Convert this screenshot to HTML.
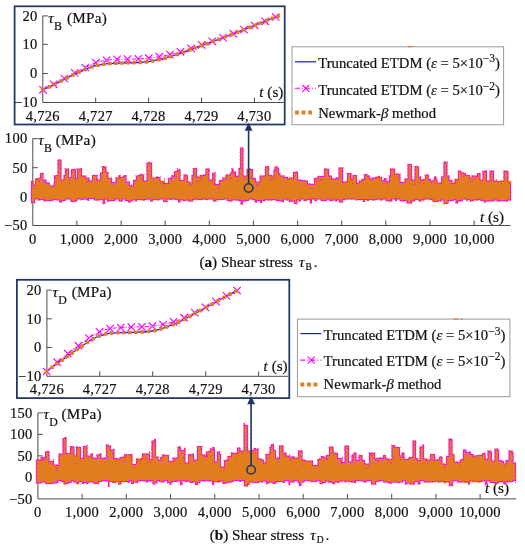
<!DOCTYPE html>
<html><head><meta charset="utf-8"><title>Shear stress</title>
<style>html,body{margin:0;padding:0;background:#fff;width:525px;height:550px;overflow:hidden}text{stroke:#111;stroke-width:0.2px}svg{display:block;will-change:transform}.t{font-family:"Liberation Serif",serif;font-size:14.5px;fill:#111;letter-spacing:0.3px}.l{font-family:"Liberation Serif",serif;font-size:14.7px;fill:#111}.c{font-family:"Liberation Serif",serif;font-size:15.2px;fill:#111}</style></head><body>
<svg width="525" height="550" viewBox="0 0 525 550">
<rect width="525" height="550" fill="#fff"/>
<path d="M37.8,138.6 H32.8 V225.5 H510.6" fill="none" stroke="#4c4c4c" stroke-width="1"/>
<text x="27.5" y="143.4" text-anchor="end" class="t">100</text>
<path d="M32.8,167.7 h5" stroke="#4c4c4c" stroke-width="1"/>
<text x="27.5" y="172.5" text-anchor="end" class="t">50</text>
<path d="M32.8,196.8 h5" stroke="#4c4c4c" stroke-width="1"/>
<text x="27.5" y="201.6" text-anchor="end" class="t">0</text>
<text x="27.5" y="230.3" text-anchor="end" class="t">−50</text>
<text x="32.8" y="244.4" text-anchor="middle" class="t">0</text>
<path d="M76.9,225.5 v-5" stroke="#4c4c4c" stroke-width="1"/>
<text x="76.9" y="244.4" text-anchor="middle" class="t">1,000</text>
<path d="M121.1,225.5 v-5" stroke="#4c4c4c" stroke-width="1"/>
<text x="121.1" y="244.4" text-anchor="middle" class="t">2,000</text>
<path d="M165.2,225.5 v-5" stroke="#4c4c4c" stroke-width="1"/>
<text x="165.2" y="244.4" text-anchor="middle" class="t">3,000</text>
<path d="M209.3,225.5 v-5" stroke="#4c4c4c" stroke-width="1"/>
<text x="209.3" y="244.4" text-anchor="middle" class="t">4,000</text>
<path d="M253.4,225.5 v-5" stroke="#4c4c4c" stroke-width="1"/>
<text x="253.4" y="244.4" text-anchor="middle" class="t">5,000</text>
<path d="M297.6,225.5 v-5" stroke="#4c4c4c" stroke-width="1"/>
<text x="297.6" y="244.4" text-anchor="middle" class="t">6,000</text>
<path d="M341.7,225.5 v-5" stroke="#4c4c4c" stroke-width="1"/>
<text x="341.7" y="244.4" text-anchor="middle" class="t">7,000</text>
<path d="M385.8,225.5 v-5" stroke="#4c4c4c" stroke-width="1"/>
<text x="385.8" y="244.4" text-anchor="middle" class="t">8,000</text>
<path d="M430.0,225.5 v-5" stroke="#4c4c4c" stroke-width="1"/>
<text x="430.0" y="244.4" text-anchor="middle" class="t">9,000</text>
<path d="M474.1,225.5 v-5" stroke="#4c4c4c" stroke-width="1"/>
<text x="474.1" y="244.4" text-anchor="middle" class="t">10,000</text>
<text x="38.3" y="145.1" class="t" style="font-size:15.2px"><tspan font-style="italic">τ</tspan><tspan dy="7" font-size="11.8">B</tspan><tspan dy="-7" dx="-0.6"> (MPa)</tspan></text>
<text x="480.0" y="221.5" class="t" style="font-size:15.2px;letter-spacing:0"><tspan font-style="italic">t</tspan> (s)</text>
<path d="M31.0,181.0 L33.5,181.0 L33.5,184.5 L35.0,184.5 L35.0,178.5 L37.0,178.5 L37.0,178.0 L39.5,178.0 L39.5,177.5 L40.0,177.5 L40.0,173.0 L42.5,173.0 L42.5,172.5 L43.5,172.5 L43.5,179.5 L46.5,179.5 L46.5,182.5 L50.0,182.5 L50.0,185.5 L53.5,185.5 L53.5,183.5 L54.0,183.5 L54.0,175.5 L55.5,175.5 L55.5,175.0 L57.5,175.0 L57.5,159.5 L61.5,159.5 L61.5,179.5 L63.5,179.5 L63.5,175.0 L65.0,175.0 L65.0,168.5 L69.0,168.5 L69.0,177.0 L71.0,177.0 L71.0,169.0 L76.0,169.0 L76.0,178.0 L77.0,178.0 L77.0,168.5 L81.0,168.5 L81.0,168.0 L82.0,168.0 L82.0,175.5 L86.0,175.5 L86.0,177.5 L89.5,177.5 L89.5,180.5 L92.0,180.5 L92.0,175.0 L97.5,175.0 L97.5,179.5 L100.0,179.5 L100.0,172.5 L102.0,172.5 L102.0,166.0 L104.5,166.0 L104.5,166.5 L106.5,166.5 L106.5,172.0 L108.5,172.0 L108.5,178.0 L111.0,178.0 L111.0,177.5 L112.0,177.5 L112.0,182.0 L115.5,182.0 L115.5,177.5 L118.5,177.5 L118.5,175.0 L120.5,175.0 L120.5,177.0 L123.0,177.0 L123.0,175.5 L124.5,175.5 L124.5,175.0 L126.5,175.0 L126.5,181.5 L130.0,181.5 L130.0,185.0 L132.0,185.0 L132.0,185.5 L133.0,185.5 L133.0,180.0 L136.0,180.0 L136.0,175.5 L138.0,175.5 L138.0,175.0 L139.5,175.0 L139.5,174.0 L142.5,174.0 L142.5,174.5 L144.0,174.5 L144.0,180.5 L146.5,180.5 L146.5,162.5 L148.5,162.5 L148.5,162.0 L150.0,162.0 L150.0,162.5 L152.0,162.5 L152.0,177.5 L156.0,177.5 L156.0,176.5 L158.0,176.5 L158.0,177.0 L160.5,177.0 L160.5,181.0 L164.0,181.0 L164.0,178.5 L164.5,178.5 L164.5,183.0 L168.0,183.0 L168.0,178.0 L170.0,178.0 L170.0,177.5 L171.5,177.5 L171.5,175.0 L173.0,175.0 L173.0,175.5 L174.0,175.5 L174.0,171.0 L177.0,171.0 L177.0,168.5 L177.5,168.5 L177.5,169.5 L179.0,169.5 L179.0,169.0 L180.5,169.0 L180.5,180.0 L183.5,180.0 L183.5,174.5 L187.5,174.5 L187.5,175.5 L188.0,175.5 L188.0,181.5 L190.5,181.5 L190.5,183.5 L191.5,183.5 L191.5,175.0 L193.0,175.0 L193.0,168.0 L197.0,168.0 L197.0,176.5 L200.0,176.5 L200.0,175.0 L203.5,175.0 L203.5,174.5 L205.0,174.5 L205.0,174.0 L205.5,174.0 L205.5,168.5 L209.5,168.5 L209.5,179.5 L212.0,179.5 L212.0,173.0 L214.0,173.0 L214.0,172.5 L215.5,172.5 L215.5,184.0 L219.0,184.0 L219.0,180.0 L222.5,180.0 L222.5,177.5 L225.5,177.5 L225.5,174.5 L230.0,174.5 L230.0,172.5 L231.5,172.5 L231.5,168.5 L233.5,168.5 L233.5,171.5 L236.0,171.5 L236.0,176.0 L237.5,176.0 L237.5,175.5 L238.5,175.5 L238.5,168.0 L240.0,168.0 L240.0,147.5 L243.5,147.5 L243.5,175.5 L246.5,175.5 L246.5,169.0 L249.0,169.0 L249.0,168.5 L250.5,168.5 L250.5,169.0 L253.0,169.0 L253.0,178.0 L256.0,178.0 L256.0,181.5 L259.5,181.5 L259.5,175.5 L265.0,175.5 L265.0,166.5 L266.5,166.5 L266.5,166.0 L269.0,166.0 L269.0,175.0 L272.0,175.0 L272.0,175.5 L273.5,175.5 L273.5,169.5 L274.5,169.5 L274.5,166.5 L278.0,166.5 L278.0,168.0 L279.0,168.0 L279.0,173.0 L280.5,173.0 L280.5,175.5 L284.5,175.5 L284.5,177.0 L288.0,177.0 L288.0,178.5 L289.0,178.5 L289.0,177.5 L293.0,177.5 L293.0,172.0 L296.0,172.0 L296.0,171.5 L298.0,171.5 L298.0,179.5 L301.0,179.5 L301.0,180.0 L305.5,180.0 L305.5,180.5 L308.0,180.5 L308.0,183.5 L311.5,183.5 L311.5,184.0 L314.0,184.0 L314.0,178.0 L317.0,178.0 L317.0,177.5 L317.5,177.5 L317.5,176.0 L324.0,176.0 L324.0,168.5 L327.5,168.5 L327.5,169.0 L329.0,169.0 L329.0,175.5 L332.0,175.5 L332.0,178.5 L335.5,178.5 L335.5,177.5 L338.0,177.5 L338.0,178.0 L338.5,178.0 L338.5,167.5 L343.0,167.5 L343.0,181.5 L346.5,181.5 L346.5,181.0 L347.0,181.0 L347.0,173.0 L351.5,173.0 L351.5,179.0 L352.5,179.0 L352.5,175.0 L357.0,175.0 L357.0,182.5 L359.0,182.5 L359.0,180.5 L361.5,180.5 L361.5,179.0 L364.0,179.0 L364.0,174.0 L367.5,174.0 L367.5,175.5 L370.0,175.5 L370.0,178.0 L372.0,178.0 L372.0,177.5 L375.0,177.5 L375.0,177.0 L377.5,177.0 L377.5,176.0 L380.0,176.0 L380.0,177.0 L382.0,177.0 L382.0,180.0 L384.0,180.0 L384.0,178.0 L386.5,178.0 L386.5,181.0 L388.5,181.0 L388.5,181.5 L389.0,181.5 L389.0,175.5 L390.0,175.5 L390.0,168.5 L395.0,168.5 L395.0,173.5 L398.0,173.5 L398.0,173.0 L398.5,173.0 L398.5,174.0 L400.5,174.0 L400.5,182.0 L404.5,182.0 L404.5,178.5 L407.5,178.5 L407.5,164.0 L412.0,164.0 L412.0,179.5 L414.5,179.5 L414.5,166.0 L418.0,166.0 L418.0,166.5 L419.0,166.5 L419.0,176.5 L421.0,176.5 L421.0,179.5 L423.0,179.5 L423.0,179.0 L425.0,179.0 L425.0,174.5 L428.5,174.5 L428.5,175.0 L429.0,175.0 L429.0,179.0 L431.0,179.0 L431.0,180.5 L433.5,180.5 L433.5,179.0 L434.0,179.0 L434.0,176.5 L436.5,176.5 L436.5,179.0 L437.5,179.0 L437.5,182.5 L441.0,182.5 L441.0,176.5 L443.5,176.5 L443.5,161.5 L446.0,161.5 L446.0,162.0 L447.5,162.0 L447.5,175.5 L449.5,175.5 L449.5,180.0 L452.5,180.0 L452.5,183.0 L454.5,183.0 L454.5,179.0 L458.0,179.0 L458.0,170.5 L460.5,170.5 L460.5,171.0 L461.5,171.0 L461.5,172.5 L464.0,172.5 L464.0,173.0 L466.0,173.0 L466.0,175.0 L470.0,175.0 L470.0,177.5 L471.5,177.5 L471.5,175.0 L472.0,175.0 L472.0,175.5 L476.0,175.5 L476.0,176.0 L477.0,176.0 L477.0,173.0 L480.5,173.0 L480.5,179.5 L482.5,179.5 L482.5,171.0 L484.5,171.0 L484.5,170.5 L487.0,170.5 L487.0,180.5 L489.5,180.5 L489.5,170.5 L494.0,170.5 L494.0,180.5 L496.0,180.5 L496.0,179.5 L497.0,179.5 L497.0,181.0 L500.5,181.0 L500.5,180.5 L503.5,180.5 L503.5,170.5 L506.5,170.5 L506.5,171.0 L508.5,171.0 L508.5,181.5 L511.0,181.5 L511.0,201.0 L510.5,201.0 L510.5,200.5 L508.0,200.5 L508.0,201.5 L504.5,201.5 L504.5,201.0 L500.0,201.0 L500.0,201.5 L497.0,201.5 L497.0,200.5 L494.5,200.5 L494.5,201.5 L486.0,201.5 L486.0,202.5 L483.5,202.5 L483.5,201.0 L480.5,201.0 L480.5,200.0 L478.5,200.0 L478.5,200.5 L473.0,200.5 L473.0,201.5 L469.5,201.5 L469.5,200.0 L467.5,200.0 L467.5,201.0 L466.0,201.0 L466.0,199.5 L463.0,199.5 L463.0,201.0 L461.0,201.0 L461.0,201.5 L458.0,201.5 L458.0,203.5 L455.5,203.5 L455.5,200.0 L454.0,200.0 L454.0,201.0 L448.5,201.0 L448.5,204.0 L443.5,204.0 L443.5,200.5 L441.5,200.5 L441.5,201.5 L438.0,201.5 L438.0,202.0 L432.5,202.0 L432.5,200.0 L429.5,200.0 L429.5,199.5 L424.5,199.5 L424.5,200.5 L421.0,200.5 L421.0,201.5 L418.5,201.5 L418.5,200.0 L415.0,200.0 L415.0,201.5 L412.0,201.5 L412.0,203.5 L406.5,203.5 L406.5,201.0 L404.5,201.0 L404.5,201.5 L401.5,201.5 L401.5,201.0 L399.5,201.0 L399.5,199.5 L397.0,199.5 L397.0,201.0 L395.0,201.0 L395.0,199.5 L392.0,199.5 L392.0,201.5 L388.5,201.5 L388.5,201.0 L385.5,201.0 L385.5,199.5 L382.5,199.5 L382.5,200.5 L380.0,200.5 L380.0,199.5 L377.5,199.5 L377.5,200.0 L375.0,200.0 L375.0,200.5 L372.5,200.5 L372.5,200.0 L369.0,200.0 L369.0,201.0 L367.0,201.0 L367.0,200.0 L365.0,200.0 L365.0,202.0 L363.0,202.0 L363.0,200.0 L357.0,200.0 L357.0,200.5 L355.5,200.5 L355.5,199.5 L345.5,199.5 L345.5,200.0 L343.0,200.0 L343.0,202.5 L339.0,202.5 L339.0,200.5 L337.0,200.5 L337.0,201.5 L335.5,201.5 L335.5,200.5 L332.5,200.5 L332.5,201.0 L329.0,201.0 L329.0,199.5 L327.0,199.5 L327.0,201.0 L320.5,201.0 L320.5,199.5 L317.0,199.5 L317.0,201.0 L314.5,201.0 L314.5,199.5 L312.0,199.5 L312.0,203.5 L310.0,203.5 L310.0,200.0 L306.5,200.0 L306.5,201.0 L303.5,201.0 L303.5,199.5 L301.0,199.5 L301.0,201.5 L299.0,201.5 L299.0,200.5 L297.5,200.5 L297.5,204.0 L294.0,204.0 L294.0,201.5 L291.5,201.5 L291.5,202.0 L289.0,202.0 L289.0,200.5 L286.0,200.5 L286.0,199.5 L284.0,199.5 L284.0,202.0 L281.0,202.0 L281.0,201.0 L275.5,201.0 L275.5,200.0 L273.0,200.0 L273.0,200.5 L267.5,200.5 L267.5,200.0 L265.5,200.0 L265.5,201.0 L262.0,201.0 L262.0,203.0 L260.0,203.0 L260.0,201.0 L257.0,201.0 L257.0,202.5 L254.5,202.5 L254.5,200.0 L252.0,200.0 L252.0,199.5 L249.0,199.5 L249.0,201.0 L246.0,201.0 L246.0,201.5 L243.0,201.5 L243.0,204.5 L240.5,204.5 L240.5,201.0 L238.0,201.0 L238.0,200.5 L232.5,200.5 L232.5,201.5 L229.5,201.5 L229.5,201.0 L227.0,201.0 L227.0,199.5 L224.5,199.5 L224.5,200.0 L216.5,200.0 L216.5,201.5 L213.0,201.5 L213.0,199.5 L208.5,199.5 L208.5,200.0 L205.0,200.0 L205.0,199.5 L203.0,199.5 L203.0,200.0 L196.5,200.0 L196.5,199.5 L195.0,199.5 L195.0,200.0 L193.0,200.0 L193.0,201.5 L188.0,201.5 L188.0,200.5 L186.0,200.5 L186.0,201.0 L183.0,201.0 L183.0,200.5 L180.5,200.5 L180.5,202.5 L178.0,202.5 L178.0,200.0 L175.0,200.0 L175.0,199.5 L172.5,199.5 L172.5,200.0 L169.5,200.0 L169.5,199.5 L167.5,199.5 L167.5,202.0 L163.0,202.0 L163.0,199.5 L159.5,199.5 L159.5,200.5 L157.5,200.5 L157.5,200.0 L153.0,200.0 L153.0,201.5 L150.0,201.5 L150.0,199.5 L147.5,199.5 L147.5,200.0 L145.0,200.0 L145.0,200.5 L141.5,200.5 L141.5,200.0 L137.0,200.0 L137.0,201.5 L135.5,201.5 L135.5,200.5 L132.5,200.5 L132.5,201.5 L130.5,201.5 L130.5,202.5 L128.0,202.5 L128.0,201.0 L125.0,201.0 L125.0,199.5 L123.0,199.5 L123.0,201.5 L118.5,201.5 L118.5,199.5 L115.5,199.5 L115.5,201.0 L110.0,201.0 L110.0,201.5 L107.0,201.5 L107.0,199.5 L105.0,199.5 L105.0,204.0 L102.5,204.0 L102.5,200.0 L100.0,200.0 L100.0,200.5 L94.0,200.5 L94.0,199.0 L89.0,199.0 L89.0,201.0 L87.5,201.0 L87.5,200.0 L86.0,200.0 L86.0,199.5 L83.5,199.5 L83.5,200.0 L80.5,200.0 L80.5,199.5 L77.5,199.5 L77.5,201.0 L76.0,201.0 L76.0,202.0 L70.5,202.0 L70.5,199.5 L65.5,199.5 L65.5,201.0 L62.0,201.0 L62.0,202.5 L59.0,202.5 L59.0,200.5 L56.0,200.5 L56.0,200.0 L53.5,200.0 L53.5,201.0 L45.0,201.0 L45.0,201.5 L43.5,201.5 L43.5,200.0 L40.0,200.0 L40.0,200.5 L38.0,200.5 L38.0,199.5 L35.0,199.5 L35.0,203.0 L31.0,203.0 Z" fill="#FF00FF"/>
<path d="M32.0,182.0 L32.5,182.0 L32.5,185.5 L36.0,185.5 L36.0,179.5 L38.0,179.5 L38.0,179.0 L40.5,179.0 L40.5,178.5 L41.0,178.5 L41.0,174.0 L42.5,174.0 L42.5,180.5 L45.5,180.5 L45.5,183.5 L49.0,183.5 L49.0,186.5 L54.5,186.5 L54.5,184.5 L55.0,184.5 L55.0,176.5 L56.5,176.5 L56.5,176.0 L58.5,176.0 L58.5,160.5 L60.5,160.5 L60.5,180.5 L64.5,180.5 L64.5,176.0 L66.0,176.0 L66.0,169.5 L68.0,169.5 L68.0,178.0 L72.0,178.0 L72.0,170.0 L75.0,170.0 L75.0,179.0 L78.0,179.0 L78.0,169.5 L81.0,169.5 L81.0,176.5 L85.0,176.5 L85.0,178.5 L88.5,178.5 L88.5,181.5 L93.0,181.5 L93.0,176.0 L96.5,176.0 L96.5,180.5 L101.0,180.5 L101.0,173.5 L103.0,173.5 L103.0,167.0 L103.5,167.0 L103.5,167.5 L105.5,167.5 L105.5,173.0 L107.5,173.0 L107.5,179.0 L111.0,179.0 L111.0,183.0 L116.5,183.0 L116.5,178.5 L119.5,178.5 L119.5,178.0 L124.0,178.0 L124.0,176.5 L125.5,176.5 L125.5,182.5 L129.0,182.5 L129.0,186.0 L131.0,186.0 L131.0,186.5 L134.0,186.5 L134.0,181.0 L137.0,181.0 L137.0,176.5 L139.0,176.5 L139.0,176.0 L140.5,176.0 L140.5,175.0 L141.5,175.0 L141.5,175.5 L143.0,175.5 L143.0,181.5 L147.5,181.5 L147.5,163.5 L151.0,163.5 L151.0,178.5 L157.0,178.5 L157.0,178.0 L159.5,178.0 L159.5,182.0 L163.5,182.0 L163.5,184.0 L169.0,184.0 L169.0,179.0 L171.0,179.0 L171.0,178.5 L172.5,178.5 L172.5,176.5 L175.0,176.5 L175.0,172.0 L178.0,172.0 L178.0,170.5 L179.5,170.5 L179.5,181.0 L184.5,181.0 L184.5,175.5 L186.5,175.5 L186.5,176.5 L187.0,176.5 L187.0,182.5 L189.5,182.5 L189.5,184.5 L192.5,184.5 L192.5,176.0 L194.0,176.0 L194.0,169.0 L196.0,169.0 L196.0,177.5 L201.0,177.5 L201.0,176.0 L204.5,176.0 L204.5,175.5 L206.0,175.5 L206.0,175.0 L206.5,175.0 L206.5,169.5 L208.5,169.5 L208.5,180.5 L213.0,180.5 L213.0,174.0 L214.5,174.0 L214.5,185.0 L220.0,185.0 L220.0,181.0 L223.5,181.0 L223.5,178.5 L226.5,178.5 L226.5,175.5 L231.0,175.5 L231.0,173.5 L232.5,173.5 L232.5,172.5 L235.0,172.5 L235.0,177.0 L238.5,177.0 L238.5,176.5 L239.5,176.5 L239.5,169.0 L241.0,169.0 L241.0,148.5 L242.5,148.5 L242.5,176.5 L247.5,176.5 L247.5,170.0 L252.0,170.0 L252.0,179.0 L255.0,179.0 L255.0,182.5 L260.5,182.5 L260.5,176.5 L266.0,176.5 L266.0,167.5 L267.5,167.5 L267.5,167.0 L268.0,167.0 L268.0,176.0 L271.0,176.0 L271.0,176.5 L274.5,176.5 L274.5,170.5 L275.5,170.5 L275.5,167.5 L277.0,167.5 L277.0,169.0 L278.0,169.0 L278.0,174.0 L279.5,174.0 L279.5,176.5 L283.5,176.5 L283.5,178.0 L287.0,178.0 L287.0,179.5 L290.0,179.5 L290.0,178.5 L294.0,178.5 L294.0,173.0 L297.0,173.0 L297.0,180.5 L300.0,180.5 L300.0,181.0 L304.5,181.0 L304.5,181.5 L307.0,181.5 L307.0,184.5 L310.5,184.5 L310.5,185.0 L315.0,185.0 L315.0,179.0 L318.0,179.0 L318.0,178.5 L318.5,178.5 L318.5,177.0 L325.0,177.0 L325.0,169.5 L326.5,169.5 L326.5,170.0 L328.0,170.0 L328.0,176.5 L331.0,176.5 L331.0,179.5 L336.5,179.5 L336.5,178.5 L337.0,178.5 L337.0,179.0 L339.5,179.0 L339.5,168.5 L342.0,168.5 L342.0,182.5 L347.5,182.5 L347.5,182.0 L348.0,182.0 L348.0,174.0 L350.5,174.0 L350.5,180.0 L353.5,180.0 L353.5,176.0 L356.0,176.0 L356.0,183.5 L360.0,183.5 L360.0,181.5 L362.5,181.5 L362.5,180.0 L365.0,180.0 L365.0,175.0 L366.5,175.0 L366.5,176.5 L369.0,176.5 L369.0,179.0 L373.0,179.0 L373.0,178.5 L376.0,178.5 L376.0,178.0 L378.5,178.0 L378.5,177.0 L379.0,177.0 L379.0,178.0 L381.0,178.0 L381.0,181.0 L385.0,181.0 L385.0,179.0 L385.5,179.0 L385.5,182.0 L387.5,182.0 L387.5,182.5 L390.0,182.5 L390.0,176.5 L391.0,176.5 L391.0,169.5 L394.0,169.5 L394.0,174.5 L397.5,174.5 L397.5,175.0 L399.5,175.0 L399.5,183.0 L405.5,183.0 L405.5,179.5 L408.5,179.5 L408.5,165.0 L411.0,165.0 L411.0,180.5 L415.5,180.5 L415.5,167.0 L417.0,167.0 L417.0,167.5 L418.0,167.5 L418.0,177.5 L420.0,177.5 L420.0,180.5 L424.0,180.5 L424.0,180.0 L426.0,180.0 L426.0,175.5 L427.5,175.5 L427.5,176.0 L428.0,176.0 L428.0,180.0 L430.0,180.0 L430.0,181.5 L434.5,181.5 L434.5,180.0 L435.0,180.0 L435.0,177.5 L435.5,177.5 L435.5,180.0 L436.5,180.0 L436.5,183.5 L442.0,183.5 L442.0,177.5 L444.5,177.5 L444.5,162.5 L445.0,162.5 L445.0,163.0 L446.5,163.0 L446.5,176.5 L448.5,176.5 L448.5,181.0 L451.5,181.0 L451.5,184.0 L455.5,184.0 L455.5,180.0 L459.0,180.0 L459.0,171.5 L459.5,171.5 L459.5,172.0 L460.5,172.0 L460.5,173.5 L463.0,173.5 L463.0,174.0 L465.0,174.0 L465.0,176.0 L469.0,176.0 L469.0,178.5 L472.5,178.5 L472.5,176.5 L475.0,176.5 L475.0,177.0 L478.0,177.0 L478.0,174.0 L479.5,174.0 L479.5,180.5 L483.5,180.5 L483.5,172.0 L485.5,172.0 L485.5,171.5 L486.0,171.5 L486.0,181.5 L490.5,181.5 L490.5,171.5 L493.0,171.5 L493.0,181.5 L496.0,181.5 L496.0,182.0 L501.5,182.0 L501.5,181.5 L504.5,181.5 L504.5,171.5 L505.5,171.5 L505.5,172.0 L507.5,172.0 L507.5,182.5 L510.0,182.5 L510.0,199.5 L507.0,199.5 L507.0,200.5 L505.5,200.5 L505.5,200.0 L499.0,200.0 L499.0,200.5 L498.0,200.5 L498.0,199.5 L493.5,199.5 L493.5,200.5 L485.0,200.5 L485.0,201.5 L484.5,201.5 L484.5,200.0 L481.5,200.0 L481.5,199.0 L477.5,199.0 L477.5,199.5 L472.0,199.5 L472.0,200.5 L470.5,200.5 L470.5,199.0 L467.0,199.0 L467.0,198.5 L462.0,198.5 L462.0,200.0 L460.0,200.0 L460.0,200.5 L457.0,200.5 L457.0,202.5 L456.5,202.5 L456.5,199.0 L453.0,199.0 L453.0,200.0 L447.5,200.0 L447.5,203.0 L444.5,203.0 L444.5,199.5 L440.5,199.5 L440.5,200.5 L437.0,200.5 L437.0,201.0 L433.5,201.0 L433.5,199.0 L430.5,199.0 L430.5,198.5 L423.5,198.5 L423.5,199.5 L420.0,199.5 L420.0,200.5 L419.5,200.5 L419.5,199.0 L414.0,199.0 L414.0,200.5 L411.0,200.5 L411.0,202.5 L407.5,202.5 L407.5,200.0 L403.5,200.0 L403.5,200.5 L402.5,200.5 L402.5,200.0 L400.5,200.0 L400.5,198.5 L391.0,198.5 L391.0,200.5 L389.5,200.5 L389.5,200.0 L386.5,200.0 L386.5,198.5 L381.5,198.5 L381.5,199.5 L381.0,199.5 L381.0,198.5 L376.5,198.5 L376.5,199.0 L374.0,199.0 L374.0,199.5 L373.5,199.5 L373.5,199.0 L356.5,199.0 L356.5,198.5 L344.5,198.5 L344.5,199.0 L342.0,199.0 L342.0,201.5 L340.0,201.5 L340.0,199.5 L331.5,199.5 L331.5,200.0 L330.0,200.0 L330.0,198.5 L326.0,198.5 L326.0,200.0 L321.5,200.0 L321.5,198.5 L316.0,198.5 L316.0,200.0 L315.5,200.0 L315.5,198.5 L311.0,198.5 L311.0,199.0 L305.5,199.0 L305.5,200.0 L304.5,200.0 L304.5,198.5 L300.0,198.5 L300.0,199.5 L296.5,199.5 L296.5,203.0 L295.0,203.0 L295.0,200.5 L290.5,200.5 L290.5,201.0 L290.0,201.0 L290.0,199.5 L287.0,199.5 L287.0,198.5 L283.0,198.5 L283.0,201.0 L282.0,201.0 L282.0,200.0 L276.5,200.0 L276.5,199.0 L272.0,199.0 L272.0,199.5 L268.5,199.5 L268.5,199.0 L264.5,199.0 L264.5,200.0 L256.0,200.0 L256.0,201.5 L255.5,201.5 L255.5,199.0 L253.0,199.0 L253.0,198.5 L248.0,198.5 L248.0,200.0 L245.0,200.0 L245.0,200.5 L242.0,200.5 L242.0,203.5 L241.5,203.5 L241.5,200.0 L239.0,200.0 L239.0,199.5 L231.5,199.5 L231.5,200.5 L230.5,200.5 L230.5,200.0 L228.0,200.0 L228.0,198.5 L223.5,198.5 L223.5,199.0 L215.5,199.0 L215.5,200.5 L214.0,200.5 L214.0,198.5 L207.5,198.5 L207.5,199.0 L206.0,199.0 L206.0,198.5 L202.0,198.5 L202.0,199.0 L197.5,199.0 L197.5,198.5 L194.0,198.5 L194.0,199.0 L192.0,199.0 L192.0,200.5 L189.0,200.5 L189.0,199.5 L185.0,199.5 L185.0,200.0 L184.0,200.0 L184.0,199.5 L179.5,199.5 L179.5,201.5 L179.0,201.5 L179.0,199.0 L176.0,199.0 L176.0,198.5 L171.5,198.5 L171.5,199.0 L170.5,199.0 L170.5,198.5 L166.5,198.5 L166.5,201.0 L164.0,201.0 L164.0,198.5 L158.5,198.5 L158.5,199.0 L152.0,199.0 L152.0,200.5 L151.0,200.5 L151.0,198.5 L146.5,198.5 L146.5,199.0 L144.0,199.0 L144.0,199.5 L142.5,199.5 L142.5,199.0 L136.0,199.0 L136.0,199.5 L131.5,199.5 L131.5,200.5 L129.5,200.5 L129.5,201.5 L129.0,201.5 L129.0,200.0 L126.0,200.0 L126.0,198.5 L122.0,198.5 L122.0,200.5 L119.5,200.5 L119.5,198.5 L114.5,198.5 L114.5,200.0 L109.0,200.0 L109.0,200.5 L108.0,200.5 L108.0,198.5 L104.0,198.5 L104.0,203.0 L103.5,203.0 L103.5,199.0 L99.0,199.0 L99.0,199.5 L95.0,199.5 L95.0,198.0 L88.0,198.0 L88.0,199.0 L87.0,199.0 L87.0,198.5 L82.5,198.5 L82.5,199.0 L81.5,199.0 L81.5,198.5 L76.5,198.5 L76.5,200.0 L75.0,200.0 L75.0,201.0 L71.5,201.0 L71.5,198.5 L64.5,198.5 L64.5,200.0 L61.0,200.0 L61.0,201.5 L60.0,201.5 L60.0,199.5 L57.0,199.5 L57.0,199.0 L52.5,199.0 L52.5,200.0 L44.5,200.0 L44.5,199.0 L39.0,199.0 L39.0,198.5 L34.0,198.5 L34.0,202.0 L32.0,202.0 Z" fill="#E27D1E"/>
<path d="M31.0,181.0 L33.5,181.0 L33.5,184.5 L35.0,184.5 L35.0,178.5 L37.0,178.5 L37.0,178.0 L39.5,178.0 L39.5,177.5 L40.0,177.5 L40.0,173.0 L42.5,173.0 L42.5,172.5 L43.5,172.5 L43.5,179.5 L46.5,179.5 L46.5,182.5 L50.0,182.5 L50.0,185.5 L53.5,185.5 L53.5,183.5 L54.0,183.5 L54.0,175.5 L55.5,175.5 L55.5,175.0 L57.5,175.0 L57.5,159.5 L61.5,159.5 L61.5,179.5 L63.5,179.5 L63.5,175.0 L65.0,175.0 L65.0,168.5 L69.0,168.5 L69.0,177.0 L71.0,177.0 L71.0,169.0 L76.0,169.0 L76.0,178.0 L77.0,178.0 L77.0,168.5 L81.0,168.5 L81.0,168.0 L82.0,168.0 L82.0,175.5 L86.0,175.5 L86.0,177.5 L89.5,177.5 L89.5,180.5 L92.0,180.5 L92.0,175.0 L97.5,175.0 L97.5,179.5 L100.0,179.5 L100.0,172.5 L102.0,172.5 L102.0,166.0 L104.5,166.0 L104.5,166.5 L106.5,166.5 L106.5,172.0 L108.5,172.0 L108.5,178.0 L111.0,178.0 L111.0,177.5 L112.0,177.5 L112.0,182.0 L115.5,182.0 L115.5,177.5 L118.5,177.5 L118.5,175.0 L120.5,175.0 L120.5,177.0 L123.0,177.0 L123.0,175.5 L124.5,175.5 L124.5,175.0 L126.5,175.0 L126.5,181.5 L130.0,181.5 L130.0,185.0 L132.0,185.0 L132.0,185.5 L133.0,185.5 L133.0,180.0 L136.0,180.0 L136.0,175.5 L138.0,175.5 L138.0,175.0 L139.5,175.0 L139.5,174.0 L142.5,174.0 L142.5,174.5 L144.0,174.5 L144.0,180.5 L146.5,180.5 L146.5,162.5 L148.5,162.5 L148.5,162.0 L150.0,162.0 L150.0,162.5 L152.0,162.5 L152.0,177.5 L156.0,177.5 L156.0,176.5 L158.0,176.5 L158.0,177.0 L160.5,177.0 L160.5,181.0 L164.0,181.0 L164.0,178.5 L164.5,178.5 L164.5,183.0 L168.0,183.0 L168.0,178.0 L170.0,178.0 L170.0,177.5 L171.5,177.5 L171.5,175.0 L173.0,175.0 L173.0,175.5 L174.0,175.5 L174.0,171.0 L177.0,171.0 L177.0,168.5 L177.5,168.5 L177.5,169.5 L179.0,169.5 L179.0,169.0 L180.5,169.0 L180.5,180.0 L183.5,180.0 L183.5,174.5 L187.5,174.5 L187.5,175.5 L188.0,175.5 L188.0,181.5 L190.5,181.5 L190.5,183.5 L191.5,183.5 L191.5,175.0 L193.0,175.0 L193.0,168.0 L197.0,168.0 L197.0,176.5 L200.0,176.5 L200.0,175.0 L203.5,175.0 L203.5,174.5 L205.0,174.5 L205.0,174.0 L205.5,174.0 L205.5,168.5 L209.5,168.5 L209.5,179.5 L212.0,179.5 L212.0,173.0 L214.0,173.0 L214.0,172.5 L215.5,172.5 L215.5,184.0 L219.0,184.0 L219.0,180.0 L222.5,180.0 L222.5,177.5 L225.5,177.5 L225.5,174.5 L230.0,174.5 L230.0,172.5 L231.5,172.5 L231.5,168.5 L233.5,168.5 L233.5,171.5 L236.0,171.5 L236.0,176.0 L237.5,176.0 L237.5,175.5 L238.5,175.5 L238.5,168.0 L240.0,168.0 L240.0,147.5 L243.5,147.5 L243.5,175.5 L246.5,175.5 L246.5,169.0 L249.0,169.0 L249.0,168.5 L250.5,168.5 L250.5,169.0 L253.0,169.0 L253.0,178.0 L256.0,178.0 L256.0,181.5 L259.5,181.5 L259.5,175.5 L265.0,175.5 L265.0,166.5 L266.5,166.5 L266.5,166.0 L269.0,166.0 L269.0,175.0 L272.0,175.0 L272.0,175.5 L273.5,175.5 L273.5,169.5 L274.5,169.5 L274.5,166.5 L278.0,166.5 L278.0,168.0 L279.0,168.0 L279.0,173.0 L280.5,173.0 L280.5,175.5 L284.5,175.5 L284.5,177.0 L288.0,177.0 L288.0,178.5 L289.0,178.5 L289.0,177.5 L293.0,177.5 L293.0,172.0 L296.0,172.0 L296.0,171.5 L298.0,171.5 L298.0,179.5 L301.0,179.5 L301.0,180.0 L305.5,180.0 L305.5,180.5 L308.0,180.5 L308.0,183.5 L311.5,183.5 L311.5,184.0 L314.0,184.0 L314.0,178.0 L317.0,178.0 L317.0,177.5 L317.5,177.5 L317.5,176.0 L324.0,176.0 L324.0,168.5 L327.5,168.5 L327.5,169.0 L329.0,169.0 L329.0,175.5 L332.0,175.5 L332.0,178.5 L335.5,178.5 L335.5,177.5 L338.0,177.5 L338.0,178.0 L338.5,178.0 L338.5,167.5 L343.0,167.5 L343.0,181.5 L346.5,181.5 L346.5,181.0 L347.0,181.0 L347.0,173.0 L351.5,173.0 L351.5,179.0 L352.5,179.0 L352.5,175.0 L357.0,175.0 L357.0,182.5 L359.0,182.5 L359.0,180.5 L361.5,180.5 L361.5,179.0 L364.0,179.0 L364.0,174.0 L367.5,174.0 L367.5,175.5 L370.0,175.5 L370.0,178.0 L372.0,178.0 L372.0,177.5 L375.0,177.5 L375.0,177.0 L377.5,177.0 L377.5,176.0 L380.0,176.0 L380.0,177.0 L382.0,177.0 L382.0,180.0 L384.0,180.0 L384.0,178.0 L386.5,178.0 L386.5,181.0 L388.5,181.0 L388.5,181.5 L389.0,181.5 L389.0,175.5 L390.0,175.5 L390.0,168.5 L395.0,168.5 L395.0,173.5 L398.0,173.5 L398.0,173.0 L398.5,173.0 L398.5,174.0 L400.5,174.0 L400.5,182.0 L404.5,182.0 L404.5,178.5 L407.5,178.5 L407.5,164.0 L412.0,164.0 L412.0,179.5 L414.5,179.5 L414.5,166.0 L418.0,166.0 L418.0,166.5 L419.0,166.5 L419.0,176.5 L421.0,176.5 L421.0,179.5 L423.0,179.5 L423.0,179.0 L425.0,179.0 L425.0,174.5 L428.5,174.5 L428.5,175.0 L429.0,175.0 L429.0,179.0 L431.0,179.0 L431.0,180.5 L433.5,180.5 L433.5,179.0 L434.0,179.0 L434.0,176.5 L436.5,176.5 L436.5,179.0 L437.5,179.0 L437.5,182.5 L441.0,182.5 L441.0,176.5 L443.5,176.5 L443.5,161.5 L446.0,161.5 L446.0,162.0 L447.5,162.0 L447.5,175.5 L449.5,175.5 L449.5,180.0 L452.5,180.0 L452.5,183.0 L454.5,183.0 L454.5,179.0 L458.0,179.0 L458.0,170.5 L460.5,170.5 L460.5,171.0 L461.5,171.0 L461.5,172.5 L464.0,172.5 L464.0,173.0 L466.0,173.0 L466.0,175.0 L470.0,175.0 L470.0,177.5 L471.5,177.5 L471.5,175.0 L472.0,175.0 L472.0,175.5 L476.0,175.5 L476.0,176.0 L477.0,176.0 L477.0,173.0 L480.5,173.0 L480.5,179.5 L482.5,179.5 L482.5,171.0 L484.5,171.0 L484.5,170.5 L487.0,170.5 L487.0,180.5 L489.5,180.5 L489.5,170.5 L494.0,170.5 L494.0,180.5 L496.0,180.5 L496.0,179.5 L497.0,179.5 L497.0,181.0 L500.5,181.0 L500.5,180.5 L503.5,180.5 L503.5,170.5 L506.5,170.5 L506.5,171.0 L508.5,171.0 L508.5,181.5 L511.0,181.5 L511.0,201.0 L510.5,201.0 L510.5,200.5 L508.0,200.5 L508.0,201.5 L504.5,201.5 L504.5,201.0 L500.0,201.0 L500.0,201.5 L497.0,201.5 L497.0,200.5 L494.5,200.5 L494.5,201.5 L486.0,201.5 L486.0,202.5 L483.5,202.5 L483.5,201.0 L480.5,201.0 L480.5,200.0 L478.5,200.0 L478.5,200.5 L473.0,200.5 L473.0,201.5 L469.5,201.5 L469.5,200.0 L467.5,200.0 L467.5,201.0 L466.0,201.0 L466.0,199.5 L463.0,199.5 L463.0,201.0 L461.0,201.0 L461.0,201.5 L458.0,201.5 L458.0,203.5 L455.5,203.5 L455.5,200.0 L454.0,200.0 L454.0,201.0 L448.5,201.0 L448.5,204.0 L443.5,204.0 L443.5,200.5 L441.5,200.5 L441.5,201.5 L438.0,201.5 L438.0,202.0 L432.5,202.0 L432.5,200.0 L429.5,200.0 L429.5,199.5 L424.5,199.5 L424.5,200.5 L421.0,200.5 L421.0,201.5 L418.5,201.5 L418.5,200.0 L415.0,200.0 L415.0,201.5 L412.0,201.5 L412.0,203.5 L406.5,203.5 L406.5,201.0 L404.5,201.0 L404.5,201.5 L401.5,201.5 L401.5,201.0 L399.5,201.0 L399.5,199.5 L397.0,199.5 L397.0,201.0 L395.0,201.0 L395.0,199.5 L392.0,199.5 L392.0,201.5 L388.5,201.5 L388.5,201.0 L385.5,201.0 L385.5,199.5 L382.5,199.5 L382.5,200.5 L380.0,200.5 L380.0,199.5 L377.5,199.5 L377.5,200.0 L375.0,200.0 L375.0,200.5 L372.5,200.5 L372.5,200.0 L369.0,200.0 L369.0,201.0 L367.0,201.0 L367.0,200.0 L365.0,200.0 L365.0,202.0 L363.0,202.0 L363.0,200.0 L357.0,200.0 L357.0,200.5 L355.5,200.5 L355.5,199.5 L345.5,199.5 L345.5,200.0 L343.0,200.0 L343.0,202.5 L339.0,202.5 L339.0,200.5 L337.0,200.5 L337.0,201.5 L335.5,201.5 L335.5,200.5 L332.5,200.5 L332.5,201.0 L329.0,201.0 L329.0,199.5 L327.0,199.5 L327.0,201.0 L320.5,201.0 L320.5,199.5 L317.0,199.5 L317.0,201.0 L314.5,201.0 L314.5,199.5 L312.0,199.5 L312.0,203.5 L310.0,203.5 L310.0,200.0 L306.5,200.0 L306.5,201.0 L303.5,201.0 L303.5,199.5 L301.0,199.5 L301.0,201.5 L299.0,201.5 L299.0,200.5 L297.5,200.5 L297.5,204.0 L294.0,204.0 L294.0,201.5 L291.5,201.5 L291.5,202.0 L289.0,202.0 L289.0,200.5 L286.0,200.5 L286.0,199.5 L284.0,199.5 L284.0,202.0 L281.0,202.0 L281.0,201.0 L275.5,201.0 L275.5,200.0 L273.0,200.0 L273.0,200.5 L267.5,200.5 L267.5,200.0 L265.5,200.0 L265.5,201.0 L262.0,201.0 L262.0,203.0 L260.0,203.0 L260.0,201.0 L257.0,201.0 L257.0,202.5 L254.5,202.5 L254.5,200.0 L252.0,200.0 L252.0,199.5 L249.0,199.5 L249.0,201.0 L246.0,201.0 L246.0,201.5 L243.0,201.5 L243.0,204.5 L240.5,204.5 L240.5,201.0 L238.0,201.0 L238.0,200.5 L232.5,200.5 L232.5,201.5 L229.5,201.5 L229.5,201.0 L227.0,201.0 L227.0,199.5 L224.5,199.5 L224.5,200.0 L216.5,200.0 L216.5,201.5 L213.0,201.5 L213.0,199.5 L208.5,199.5 L208.5,200.0 L205.0,200.0 L205.0,199.5 L203.0,199.5 L203.0,200.0 L196.5,200.0 L196.5,199.5 L195.0,199.5 L195.0,200.0 L193.0,200.0 L193.0,201.5 L188.0,201.5 L188.0,200.5 L186.0,200.5 L186.0,201.0 L183.0,201.0 L183.0,200.5 L180.5,200.5 L180.5,202.5 L178.0,202.5 L178.0,200.0 L175.0,200.0 L175.0,199.5 L172.5,199.5 L172.5,200.0 L169.5,200.0 L169.5,199.5 L167.5,199.5 L167.5,202.0 L163.0,202.0 L163.0,199.5 L159.5,199.5 L159.5,200.5 L157.5,200.5 L157.5,200.0 L153.0,200.0 L153.0,201.5 L150.0,201.5 L150.0,199.5 L147.5,199.5 L147.5,200.0 L145.0,200.0 L145.0,200.5 L141.5,200.5 L141.5,200.0 L137.0,200.0 L137.0,201.5 L135.5,201.5 L135.5,200.5 L132.5,200.5 L132.5,201.5 L130.5,201.5 L130.5,202.5 L128.0,202.5 L128.0,201.0 L125.0,201.0 L125.0,199.5 L123.0,199.5 L123.0,201.5 L118.5,201.5 L118.5,199.5 L115.5,199.5 L115.5,201.0 L110.0,201.0 L110.0,201.5 L107.0,201.5 L107.0,199.5 L105.0,199.5 L105.0,204.0 L102.5,204.0 L102.5,200.0 L100.0,200.0 L100.0,200.5 L94.0,200.5 L94.0,199.0 L89.0,199.0 L89.0,201.0 L87.5,201.0 L87.5,200.0 L86.0,200.0 L86.0,199.5 L83.5,199.5 L83.5,200.0 L80.5,200.0 L80.5,199.5 L77.5,199.5 L77.5,201.0 L76.0,201.0 L76.0,202.0 L70.5,202.0 L70.5,199.5 L65.5,199.5 L65.5,201.0 L62.0,201.0 L62.0,202.5 L59.0,202.5 L59.0,200.5 L56.0,200.5 L56.0,200.0 L53.5,200.0 L53.5,201.0 L45.0,201.0 L45.0,201.5 L43.5,201.5 L43.5,200.0 L40.0,200.0 L40.0,200.5 L38.0,200.5 L38.0,199.5 L35.0,199.5 L35.0,203.0 L31.0,203.0 Z" fill="none" stroke="#E27D1E" stroke-width="1.1" stroke-dasharray="1 2.6"/>
<path d="M209.0,170.5 h1v1.2h-1zM474.5,178.0 h1v1.2h-1zM329.0,178.4 h1v1.2h-1zM86.5,181.8 h1v1.2h-1zM257.0,185.0 h1v1.2h-1zM43.5,181.9 h1v1.2h-1zM397.0,176.6 h1v1.2h-1zM384.5,180.6 h1v1.2h-1zM75.0,172.1 h1v1.2h-1zM261.0,178.7 h1v1.2h-1zM470.5,180.6 h1v1.2h-1zM255.5,184.6 h1v1.2h-1zM113.0,184.6 h1v1.2h-1zM121.5,179.1 h1v1.2h-1zM455.5,181.3 h1v1.2h-1zM70.5,183.8 h1v1.2h-1zM55.0,177.5 h1v1.2h-1zM316.5,180.3 h1v1.2h-1zM371.5,180.1 h1v1.2h-1zM480.5,182.5 h1v1.2h-1zM364.5,178.7 h1v1.2h-1zM250.5,177.0 h1v1.2h-1zM352.0,182.8 h1v1.2h-1zM321.5,179.2 h1v1.2h-1zM275.5,168.8 h1v1.2h-1zM200.5,179.2 h1v1.2h-1zM305.5,184.5 h1v1.2h-1zM412.0,184.0 h1v1.2h-1zM38.0,180.1 h1v1.2h-1zM305.5,185.0 h1v1.2h-1zM269.5,178.9 h1v1.2h-1zM56.5,178.8 h1v1.2h-1zM229.5,177.7 h1v1.2h-1zM202.0,178.0 h1v1.2h-1zM336.5,183.1 h1v1.2h-1zM414.0,183.3 h1v1.2h-1zM237.5,180.0 h1v1.2h-1zM39.0,180.8 h1v1.2h-1zM234.5,173.8 h1v1.2h-1zM130.0,188.4 h1v1.2h-1zM140.5,177.9 h1v1.2h-1zM34.0,188.0 h1v1.2h-1zM293.5,179.0 h1v1.2h-1zM243.5,179.1 h1v1.2h-1zM482.5,173.6 h1v1.2h-1zM242.0,152.3 h1v1.2h-1zM69.0,179.3 h1v1.2h-1zM432.5,184.9 h1v1.2h-1zM361.5,185.7 h1v1.2h-1zM86.0,180.4 h1v1.2h-1zM171.0,179.8 h1v1.2h-1zM285.5,184.6 h1v1.2h-1zM218.5,188.2 h1v1.2h-1zM276.0,169.9 h1v1.2h-1zM231.0,177.7 h1v1.2h-1zM503.5,177.1 h1v1.2h-1zM239.0,171.5 h1v1.2h-1zM470.5,184.9 h1v1.2h-1zM462.5,175.7 h1v1.2h-1zM115.5,179.9 h1v1.2h-1zM268.5,168.1 h1v1.2h-1zM69.0,182.9 h1v1.2h-1zM219.0,185.3 h1v1.2h-1zM320.5,179.0 h1v1.2h-1zM250.0,170.9 h1v1.2h-1zM254.5,181.4 h1v1.2h-1zM59.0,163.3 h1v1.2h-1zM88.5,180.1 h1v1.2h-1zM419.5,181.2 h1v1.2h-1zM386.0,182.8 h1v1.2h-1zM244.5,178.1 h1v1.2h-1zM316.5,180.9 h1v1.2h-1zM270.0,180.1 h1v1.2h-1zM197.0,180.3 h1v1.2h-1zM274.0,171.5 h1v1.2h-1zM257.5,184.1 h1v1.2h-1zM277.5,171.0 h1v1.2h-1zM419.0,182.5 h1v1.2h-1zM472.0,181.1 h1v1.2h-1zM147.0,164.9 h1v1.2h-1zM162.5,183.1 h1v1.2h-1zM431.0,182.6 h1v1.2h-1zM242.5,150.2 h1v1.2h-1zM420.0,179.4 h1v1.2h-1zM66.0,170.7 h1v1.2h-1zM319.0,180.1 h1v1.2h-1zM192.0,177.2 h1v1.2h-1zM491.5,172.9 h1v1.2h-1zM310.0,187.9 h1v1.2h-1zM226.0,179.0 h1v1.2h-1zM350.0,176.0 h1v1.2h-1zM342.5,170.6 h1v1.2h-1zM414.0,183.9 h1v1.2h-1zM96.5,178.8 h1v1.2h-1zM269.5,177.4 h1v1.2h-1zM274.0,177.7 h1v1.2h-1zM179.0,175.9 h1v1.2h-1zM311.5,186.9 h1v1.2h-1zM368.5,178.6 h1v1.2h-1zM163.5,185.6 h1v1.2h-1zM175.5,175.8 h1v1.2h-1zM130.0,188.6 h1v1.2h-1zM301.0,183.8 h1v1.2h-1zM250.0,170.6 h1v1.2h-1zM160.5,183.2 h1v1.2h-1zM142.5,177.9 h1v1.2h-1zM388.0,185.5 h1v1.2h-1zM500.5,183.5 h1v1.2h-1zM383.0,183.2 h1v1.2h-1zM423.0,183.2 h1v1.2h-1z" fill="#FF00FF" opacity="0.8"/>
<rect x="292.0" y="46.8" width="211.6" height="77.9" fill="#fff" stroke="#9a9a9a" stroke-width="1"/>
<path d="M295.0,61.8 H316.0" stroke="#1414FF" stroke-width="1.2"/>
<text x="318.2" y="67.8" class="l">Truncated ETDM (<tspan font-style="italic">ε</tspan> = 5×10<tspan dy="-5.5" font-size="11.5">−3</tspan><tspan dy="5.5">)</tspan></text>
<path d="M295.0,88.3 H316.0" stroke="#FF00FF" stroke-width="1.1" stroke-dasharray="5 2 1 2"/>
<path d="M302.3,84.8 l7,7 M302.3,91.8 l7,-7" stroke="#FF00FF" stroke-width="1.2" fill="none"/>
<text x="318.2" y="95.0" class="l">Truncated ETDM (<tspan font-style="italic">ε</tspan> = 5×10<tspan dy="-5.5" font-size="11.5">−2</tspan><tspan dy="5.5">)</tspan></text>
<rect x="295.0" y="110.6" width="3.8" height="3.9" rx="0.5" fill="#E27D1E"/>
<rect x="301.6" y="110.6" width="3.8" height="3.9" rx="0.5" fill="#E27D1E"/>
<rect x="308.2" y="110.6" width="3.8" height="3.9" rx="0.5" fill="#E27D1E"/>
<text x="318.2" y="118.2" class="l">Newmark-<tspan font-style="italic">β</tspan> method</text>
<rect x="408" y="46.1" width="4.6" height="1.1" fill="#E27D1E"/>
<rect x="14.6" y="6.3" width="270.1" height="118.2" fill="#fff" stroke="#1E3466" stroke-width="1.75"/>
<path d="M47.8,15.9 H42.8 V102.5 H283.7" fill="none" stroke="#4c4c4c" stroke-width="1"/>
<text x="37.5" y="20.7" text-anchor="end" class="t">20</text>
<path d="M42.8,44.3 h5" stroke="#4c4c4c" stroke-width="1"/>
<text x="37.5" y="49.1" text-anchor="end" class="t">10</text>
<path d="M42.8,73.5 h5" stroke="#4c4c4c" stroke-width="1"/>
<text x="37.5" y="78.3" text-anchor="end" class="t">0</text>
<text x="37.5" y="107.3" text-anchor="end" class="t">−10</text>
<text x="42.8" y="120.6" text-anchor="middle" class="t">4,726</text>
<path d="M95.7,102.5 v-5" stroke="#4c4c4c" stroke-width="1"/>
<text x="95.7" y="120.6" text-anchor="middle" class="t">4,727</text>
<path d="M148.6,102.5 v-5" stroke="#4c4c4c" stroke-width="1"/>
<text x="148.6" y="120.6" text-anchor="middle" class="t">4,728</text>
<path d="M201.5,102.5 v-5" stroke="#4c4c4c" stroke-width="1"/>
<text x="201.5" y="120.6" text-anchor="middle" class="t">4,729</text>
<path d="M254.4,102.5 v-5" stroke="#4c4c4c" stroke-width="1"/>
<text x="254.4" y="120.6" text-anchor="middle" class="t">4,730</text>
<text x="48.3" y="22.6" class="t" style="font-size:15.2px"><tspan font-style="italic">τ</tspan><tspan dy="7" font-size="11.8">B</tspan><tspan dy="-7" dx="0.6"> (MPa)</tspan></text>
<text x="259.3" y="97.1" class="t" style="font-size:15.2px;letter-spacing:0"><tspan font-style="italic">t</tspan> (s)</text>
<path d="M43.00,89.80 C45.17,88.77 51.67,85.75 56.00,83.60 C60.33,81.45 64.67,79.03 69.00,76.90 C73.33,74.77 77.55,72.67 82.00,70.80 C86.45,68.93 91.37,66.88 95.70,65.70 C100.03,64.52 103.62,64.15 108.00,63.70 C112.38,63.25 117.50,63.18 122.00,63.00 C126.50,62.82 130.57,62.83 135.00,62.60 C139.43,62.37 143.93,62.27 148.60,61.60 C153.27,60.93 158.00,59.87 163.00,58.60 C168.00,57.33 172.20,56.17 178.60,54.00 C185.00,51.83 194.50,48.13 201.40,45.60 C208.30,43.07 214.28,40.93 220.00,38.80 C225.72,36.67 229.98,35.00 235.70,32.80 C241.42,30.60 247.25,28.38 254.30,25.60 C261.35,22.82 274.05,17.68 278.00,16.10" fill="none" stroke="#1414FF" stroke-width="1.3"/>
<path d="M43.00,89.80 C45.17,88.67 51.67,85.32 56.00,83.00 C60.33,80.68 64.67,78.20 69.00,75.90 C73.33,73.60 77.55,71.40 82.00,69.20 C86.45,67.00 91.37,64.22 95.70,62.70 C100.03,61.18 103.62,60.68 108.00,60.10 C112.38,59.52 117.50,59.38 122.00,59.20 C126.50,59.02 130.57,59.17 135.00,59.00 C139.43,58.83 143.93,58.70 148.60,58.20 C153.27,57.70 158.00,56.97 163.00,56.00 C168.00,55.03 172.20,54.23 178.60,52.40 C185.00,50.57 194.50,47.30 201.40,45.00 C208.30,42.70 214.28,40.63 220.00,38.60 C225.72,36.57 229.98,34.97 235.70,32.80 C241.42,30.63 247.25,28.38 254.30,25.60 C261.35,22.82 274.05,17.68 278.00,16.10" fill="none" stroke="#FF00FF" stroke-width="1" stroke-dasharray="4 1.5 1 1.5"/>
<path d="M39.3,86.1 l7.4,7.4 M39.3,93.5 l7.4,-7.4 M49.9,80.6 l7.4,7.4 M49.9,88.0 l7.4,-7.4 M60.5,74.8 l7.4,7.4 M60.5,82.2 l7.4,-7.4 M71.0,69.2 l7.4,7.4 M71.0,76.6 l7.4,-7.4 M81.6,63.8 l7.4,7.4 M81.6,71.2 l7.4,-7.4 M92.2,58.9 l7.4,7.4 M92.2,66.3 l7.4,-7.4 M102.8,56.6 l7.4,7.4 M102.8,64.0 l7.4,-7.4 M113.4,55.7 l7.4,7.4 M113.4,63.1 l7.4,-7.4 M123.9,55.4 l7.4,7.4 M123.9,62.8 l7.4,-7.4 M134.5,55.2 l7.4,7.4 M134.5,62.6 l7.4,-7.4 M145.1,54.5 l7.4,7.4 M145.1,61.9 l7.4,-7.4 M155.7,53.0 l7.4,7.4 M155.7,60.4 l7.4,-7.4 M166.3,50.9 l7.4,7.4 M166.3,58.3 l7.4,-7.4 M176.8,48.1 l7.4,7.4 M176.8,55.5 l7.4,-7.4 M187.4,44.7 l7.4,7.4 M187.4,52.1 l7.4,-7.4 M198.0,41.2 l7.4,7.4 M198.0,48.6 l7.4,-7.4 M208.6,37.6 l7.4,7.4 M208.6,45.0 l7.4,-7.4 M219.2,33.9 l7.4,7.4 M219.2,41.3 l7.4,-7.4 M229.7,30.0 l7.4,7.4 M229.7,37.4 l7.4,-7.4 M240.3,25.9 l7.4,7.4 M240.3,33.3 l7.4,-7.4 M250.9,21.8 l7.4,7.4 M250.9,29.2 l7.4,-7.4 M261.5,17.6 l7.4,7.4 M261.5,25.0 l7.4,-7.4 M272.1,13.3 l7.4,7.4 M272.1,20.7 l7.4,-7.4" fill="none" stroke="#FF00FF" stroke-width="1.2"/>
<rect x="41.1" y="88.0" width="3.8" height="3.6" rx="0.9" fill="#E27D1E"/>
<rect x="47.4" y="85.1" width="3.8" height="3.6" rx="0.9" fill="#E27D1E"/>
<rect x="53.1" y="82.3" width="3.8" height="3.6" rx="0.9" fill="#E27D1E"/>
<rect x="59.1" y="79.2" width="3.8" height="3.6" rx="0.9" fill="#E27D1E"/>
<rect x="65.1" y="76.1" width="3.8" height="3.6" rx="0.9" fill="#E27D1E"/>
<rect x="71.1" y="73.1" width="3.8" height="3.6" rx="0.9" fill="#E27D1E"/>
<rect x="77.1" y="70.3" width="3.8" height="3.6" rx="0.9" fill="#E27D1E"/>
<rect x="83.2" y="67.7" width="3.8" height="3.6" rx="0.9" fill="#E27D1E"/>
<rect x="89.7" y="65.2" width="3.8" height="3.6" rx="0.9" fill="#E27D1E"/>
<rect x="95.9" y="63.4" width="3.8" height="3.6" rx="0.9" fill="#E27D1E"/>
<rect x="101.9" y="62.4" width="3.8" height="3.6" rx="0.9" fill="#E27D1E"/>
<rect x="108.0" y="61.7" width="3.8" height="3.6" rx="0.9" fill="#E27D1E"/>
<rect x="114.1" y="61.4" width="3.8" height="3.6" rx="0.9" fill="#E27D1E"/>
<rect x="120.1" y="61.2" width="3.8" height="3.6" rx="0.9" fill="#E27D1E"/>
<rect x="126.1" y="61.0" width="3.8" height="3.6" rx="0.9" fill="#E27D1E"/>
<rect x="132.1" y="60.8" width="3.8" height="3.6" rx="0.9" fill="#E27D1E"/>
<rect x="138.3" y="60.6" width="3.8" height="3.6" rx="0.9" fill="#E27D1E"/>
<rect x="144.6" y="60.1" width="3.8" height="3.6" rx="0.9" fill="#E27D1E"/>
<rect x="150.7" y="59.1" width="3.8" height="3.6" rx="0.9" fill="#E27D1E"/>
<rect x="156.9" y="57.8" width="3.8" height="3.6" rx="0.9" fill="#E27D1E"/>
<rect x="163.1" y="56.3" width="3.8" height="3.6" rx="0.9" fill="#E27D1E"/>
<rect x="168.9" y="54.7" width="3.8" height="3.6" rx="0.9" fill="#E27D1E"/>
<rect x="175.4" y="52.6" width="3.8" height="3.6" rx="0.9" fill="#E27D1E"/>
<rect x="181.5" y="50.5" width="3.8" height="3.6" rx="0.9" fill="#E27D1E"/>
<rect x="187.9" y="48.1" width="3.8" height="3.6" rx="0.9" fill="#E27D1E"/>
<rect x="193.4" y="46.1" width="3.8" height="3.6" rx="0.9" fill="#E27D1E"/>
<rect x="199.5" y="43.8" width="3.8" height="3.6" rx="0.9" fill="#E27D1E"/>
<rect x="205.1" y="41.8" width="3.8" height="3.6" rx="0.9" fill="#E27D1E"/>
<rect x="211.3" y="39.5" width="3.8" height="3.6" rx="0.9" fill="#E27D1E"/>
<rect x="217.1" y="37.4" width="3.8" height="3.6" rx="0.9" fill="#E27D1E"/>
<rect x="223.4" y="35.0" width="3.8" height="3.6" rx="0.9" fill="#E27D1E"/>
<rect x="229.5" y="32.7" width="3.8" height="3.6" rx="0.9" fill="#E27D1E"/>
<rect x="235.7" y="30.3" width="3.8" height="3.6" rx="0.9" fill="#E27D1E"/>
<rect x="241.6" y="28.0" width="3.8" height="3.6" rx="0.9" fill="#E27D1E"/>
<rect x="247.9" y="25.6" width="3.8" height="3.6" rx="0.9" fill="#E27D1E"/>
<rect x="253.4" y="23.4" width="3.8" height="3.6" rx="0.9" fill="#E27D1E"/>
<rect x="258.8" y="21.2" width="3.8" height="3.6" rx="0.9" fill="#E27D1E"/>
<rect x="264.8" y="18.8" width="3.8" height="3.6" rx="0.9" fill="#E27D1E"/>
<rect x="270.5" y="16.6" width="3.8" height="3.6" rx="0.9" fill="#E27D1E"/>
<rect x="276.1" y="14.3" width="3.8" height="3.6" rx="0.9" fill="#E27D1E"/>
<path d="M248.6,129.5 V183.5" stroke="#1E3466" stroke-width="1.6"/>
<path d="M248.6,122.7 l-3.9,8 h7.8 z" fill="#1E3466"/>
<circle cx="248.6" cy="188.0" r="4.3" fill="none" stroke="#1E3466" stroke-width="1.5"/>
<text x="199.4" y="266.7" class="c">(<tspan font-weight="bold">a</tspan>) Shear stress  <tspan dx="2.2" font-style="italic">τ</tspan><tspan dy="3" font-size="9.5" dx="1">B</tspan><tspan dy="-3" dx="2">.</tspan></text>
<path d="M42.9,412.9 H37.9 V498.9 H516.3" fill="none" stroke="#4c4c4c" stroke-width="1"/>
<text x="32.6" y="417.7" text-anchor="end" class="t">150</text>
<path d="M37.9,434.4 h5" stroke="#4c4c4c" stroke-width="1"/>
<text x="32.6" y="439.2" text-anchor="end" class="t">100</text>
<path d="M37.9,455.9 h5" stroke="#4c4c4c" stroke-width="1"/>
<text x="32.6" y="460.7" text-anchor="end" class="t">50</text>
<path d="M37.9,477.4 h5" stroke="#4c4c4c" stroke-width="1"/>
<text x="32.6" y="482.2" text-anchor="end" class="t">0</text>
<text x="32.6" y="503.7" text-anchor="end" class="t">−50</text>
<text x="37.9" y="517.0" text-anchor="middle" class="t">0</text>
<path d="M82.1,498.9 v-5" stroke="#4c4c4c" stroke-width="1"/>
<text x="82.1" y="517.0" text-anchor="middle" class="t">1,000</text>
<path d="M126.3,498.9 v-5" stroke="#4c4c4c" stroke-width="1"/>
<text x="126.3" y="517.0" text-anchor="middle" class="t">2,000</text>
<path d="M170.6,498.9 v-5" stroke="#4c4c4c" stroke-width="1"/>
<text x="170.6" y="517.0" text-anchor="middle" class="t">3,000</text>
<path d="M214.8,498.9 v-5" stroke="#4c4c4c" stroke-width="1"/>
<text x="214.8" y="517.0" text-anchor="middle" class="t">4,000</text>
<path d="M259.0,498.9 v-5" stroke="#4c4c4c" stroke-width="1"/>
<text x="259.0" y="517.0" text-anchor="middle" class="t">5,000</text>
<path d="M303.2,498.9 v-5" stroke="#4c4c4c" stroke-width="1"/>
<text x="303.2" y="517.0" text-anchor="middle" class="t">6,000</text>
<path d="M347.4,498.9 v-5" stroke="#4c4c4c" stroke-width="1"/>
<text x="347.4" y="517.0" text-anchor="middle" class="t">7,000</text>
<path d="M391.7,498.9 v-5" stroke="#4c4c4c" stroke-width="1"/>
<text x="391.7" y="517.0" text-anchor="middle" class="t">8,000</text>
<path d="M435.9,498.9 v-5" stroke="#4c4c4c" stroke-width="1"/>
<text x="435.9" y="517.0" text-anchor="middle" class="t">9,000</text>
<path d="M480.1,498.9 v-5" stroke="#4c4c4c" stroke-width="1"/>
<text x="480.1" y="517.0" text-anchor="middle" class="t">10,000</text>
<text x="43.4" y="419.4" class="t" style="font-size:15.2px"><tspan font-style="italic">τ</tspan><tspan dy="7" font-size="11.8">D</tspan><tspan dy="-7" dx="-0.6"> (MPa)</tspan></text>
<text x="485.0" y="492.6" class="t" style="font-size:15.2px;letter-spacing:0"><tspan font-style="italic">t</tspan> (s)</text>
<path d="M36.0,459.5 L40.5,459.5 L40.5,457.0 L44.5,457.0 L44.5,458.5 L45.0,458.5 L45.0,451.5 L46.5,451.5 L46.5,451.0 L49.5,451.0 L49.5,461.0 L53.5,461.0 L53.5,458.5 L54.0,458.5 L54.0,464.5 L57.5,464.5 L57.5,465.0 L58.5,465.0 L58.5,453.5 L62.0,453.5 L62.0,454.0 L62.5,454.0 L62.5,438.0 L64.5,438.0 L64.5,437.0 L66.5,437.0 L66.5,453.0 L70.0,453.0 L70.0,446.0 L72.5,446.0 L72.5,446.5 L74.5,446.5 L74.5,455.5 L76.0,455.5 L76.0,446.5 L78.0,446.5 L78.0,447.0 L81.0,447.0 L81.0,458.0 L83.0,458.0 L83.0,446.0 L86.5,446.0 L86.5,445.0 L87.5,445.0 L87.5,455.5 L90.5,455.5 L90.5,453.5 L93.0,453.5 L93.0,457.5 L95.5,457.5 L95.5,458.0 L96.5,458.0 L96.5,454.5 L99.0,454.5 L99.0,453.5 L101.5,453.5 L101.5,458.0 L104.0,458.0 L104.0,457.5 L106.0,457.5 L106.0,444.5 L108.5,444.5 L108.5,445.5 L111.0,445.5 L111.0,449.5 L113.0,449.5 L113.0,449.0 L114.5,449.0 L114.5,458.0 L118.0,458.0 L118.0,458.5 L119.5,458.5 L119.5,457.0 L122.5,457.0 L122.5,456.5 L124.0,456.5 L124.0,454.0 L127.0,454.0 L127.0,454.5 L129.5,454.5 L129.5,454.0 L132.5,454.0 L132.5,464.0 L136.0,464.0 L136.0,458.5 L138.5,458.5 L138.5,459.0 L140.5,459.0 L140.5,458.0 L142.0,458.0 L142.0,453.5 L148.5,453.5 L148.5,454.0 L149.0,454.0 L149.0,451.5 L150.0,451.5 L150.0,459.0 L151.5,459.0 L151.5,440.5 L154.0,440.5 L154.0,439.0 L156.0,439.0 L156.0,456.5 L158.5,456.5 L158.5,459.5 L160.0,459.5 L160.0,457.0 L162.0,457.0 L162.0,454.5 L165.0,454.5 L165.0,455.0 L169.0,455.0 L169.0,461.0 L172.0,461.0 L172.0,461.5 L172.5,461.5 L172.5,457.5 L177.5,457.5 L177.5,446.5 L181.0,446.5 L181.0,450.0 L184.0,450.0 L184.0,448.0 L185.5,448.0 L185.5,462.5 L188.0,462.5 L188.0,454.0 L191.0,454.0 L191.0,454.5 L192.5,454.5 L192.5,453.5 L194.0,453.5 L194.0,459.5 L197.0,459.5 L197.0,446.0 L202.0,446.0 L202.0,454.5 L205.5,454.5 L205.5,456.0 L206.0,456.0 L206.0,451.5 L208.0,451.5 L208.0,451.0 L210.0,451.0 L210.0,448.5 L212.5,448.5 L212.5,447.0 L214.5,447.0 L214.5,449.0 L215.0,449.0 L215.0,461.5 L217.0,461.5 L217.0,451.5 L220.0,451.5 L220.0,454.0 L221.0,454.0 L221.0,466.5 L224.0,466.5 L224.0,460.0 L226.0,460.0 L226.0,459.5 L227.5,459.5 L227.5,456.0 L231.0,456.0 L231.0,452.5 L233.0,452.5 L233.0,453.0 L236.5,453.0 L236.5,452.5 L237.0,452.5 L237.0,447.5 L240.5,447.5 L240.5,450.5 L243.5,450.5 L243.5,423.0 L245.0,423.0 L245.0,425.0 L248.0,425.0 L248.0,450.5 L252.5,450.5 L252.5,450.0 L253.5,450.0 L253.5,448.0 L256.0,448.0 L256.0,449.0 L257.5,449.0 L257.5,448.0 L258.5,448.0 L258.5,458.5 L262.0,458.5 L262.0,459.5 L264.0,459.5 L264.0,462.5 L265.5,462.5 L265.5,454.0 L269.0,454.0 L269.0,452.5 L269.5,452.5 L269.5,446.5 L271.0,446.5 L271.0,444.0 L274.0,444.0 L274.0,450.0 L276.0,450.0 L276.0,457.5 L278.0,457.5 L278.0,458.0 L279.0,458.0 L279.0,445.5 L282.5,445.5 L282.5,445.0 L283.5,445.0 L283.5,452.5 L286.5,452.5 L286.5,455.5 L289.5,455.5 L289.5,454.0 L290.0,454.0 L290.0,456.5 L292.5,456.5 L292.5,456.0 L294.0,456.0 L294.0,457.5 L298.0,457.5 L298.0,450.5 L301.5,450.5 L301.5,450.0 L302.5,450.0 L302.5,459.5 L305.5,459.5 L305.5,460.5 L313.0,460.5 L313.0,465.0 L317.5,465.0 L317.5,459.0 L319.5,459.0 L319.5,458.5 L321.0,458.5 L321.0,456.0 L323.0,456.0 L323.0,456.5 L325.5,456.5 L325.5,458.5 L326.0,458.5 L326.0,455.0 L329.0,455.0 L329.0,446.5 L333.5,446.5 L333.5,452.5 L336.0,452.5 L336.0,453.0 L338.0,453.0 L338.0,458.0 L342.0,458.0 L342.0,456.5 L342.5,456.5 L342.5,462.0 L344.5,462.0 L344.5,445.5 L349.0,445.5 L349.0,461.5 L351.5,461.5 L351.5,454.5 L353.5,454.5 L353.5,452.5 L356.5,452.5 L356.5,460.0 L358.5,460.0 L358.5,455.0 L362.5,455.0 L362.5,460.0 L365.0,460.0 L365.0,463.5 L369.0,463.5 L369.0,452.5 L372.5,452.5 L372.5,453.0 L374.5,453.0 L374.5,452.5 L375.0,452.5 L375.0,458.0 L378.5,458.0 L378.5,457.5 L383.0,457.5 L383.0,455.0 L386.0,455.0 L386.0,457.5 L386.5,457.5 L386.5,458.5 L388.5,458.5 L388.5,459.0 L391.5,459.0 L391.5,445.0 L395.0,445.0 L395.0,447.0 L400.0,447.0 L400.0,455.5 L401.5,455.5 L401.5,452.5 L404.5,452.5 L404.5,459.0 L408.0,459.0 L408.0,457.5 L409.5,457.5 L409.5,457.0 L412.5,457.0 L412.5,440.5 L416.0,440.5 L416.0,458.0 L418.0,458.0 L418.0,460.0 L419.5,460.0 L419.5,446.5 L422.5,446.5 L422.5,444.5 L424.0,444.5 L424.0,458.5 L427.0,458.5 L427.0,459.5 L430.0,459.5 L430.0,454.0 L435.0,454.0 L435.0,459.5 L438.0,459.5 L438.0,459.0 L439.0,459.0 L439.0,456.5 L442.5,456.5 L442.5,463.5 L445.0,463.5 L445.0,464.0 L446.0,464.0 L446.0,456.0 L448.5,456.0 L448.5,438.5 L451.0,438.5 L451.0,439.0 L452.5,439.0 L452.5,454.0 L454.5,454.0 L454.5,461.5 L458.0,461.5 L458.0,462.0 L459.5,462.0 L459.5,460.0 L461.0,460.0 L461.0,459.0 L463.0,459.0 L463.0,449.5 L466.5,449.5 L466.5,452.0 L469.5,452.0 L469.5,451.5 L471.0,451.5 L471.0,454.0 L473.5,454.0 L473.5,455.5 L477.0,455.5 L477.0,455.0 L482.0,455.0 L482.0,453.0 L484.5,453.0 L484.5,452.5 L485.5,452.5 L485.5,459.0 L487.5,459.0 L487.5,450.5 L490.5,450.5 L490.5,451.5 L492.0,451.5 L492.0,460.5 L494.5,460.5 L494.5,448.5 L498.0,448.5 L498.0,449.5 L499.0,449.5 L499.0,460.0 L502.0,460.0 L502.0,461.0 L504.0,461.0 L504.0,463.5 L505.5,463.5 L505.5,460.0 L508.5,460.0 L508.5,450.5 L512.5,450.5 L512.5,452.0 L513.5,452.0 L513.5,462.5 L516.0,462.5 L516.0,482.5 L515.5,482.5 L515.5,481.0 L513.5,481.0 L513.5,482.0 L508.5,482.0 L508.5,482.5 L506.0,482.5 L506.0,484.5 L503.5,484.5 L503.5,482.5 L502.0,482.5 L502.0,482.0 L499.5,482.0 L499.5,483.0 L497.5,483.0 L497.5,484.0 L494.5,484.0 L494.5,483.0 L489.5,483.0 L489.5,481.0 L487.5,481.0 L487.5,485.0 L485.0,485.0 L485.0,481.5 L482.0,481.5 L482.0,482.0 L480.5,482.0 L480.5,482.5 L477.5,482.5 L477.5,482.0 L472.5,482.0 L472.5,481.5 L470.0,481.5 L470.0,484.5 L468.0,484.5 L468.0,482.5 L466.5,482.5 L466.5,483.0 L464.5,483.0 L464.5,482.5 L457.0,482.5 L457.0,481.0 L454.5,481.0 L454.5,481.5 L453.0,481.5 L453.0,486.0 L449.0,486.0 L449.0,482.5 L445.5,482.5 L445.5,483.5 L444.0,483.5 L444.0,482.0 L440.5,482.0 L440.5,482.5 L438.0,482.5 L438.0,481.5 L436.0,481.5 L436.0,482.0 L433.0,482.0 L433.0,482.5 L423.5,482.5 L423.5,481.0 L420.5,481.0 L420.5,484.5 L417.5,484.5 L417.5,482.0 L415.0,482.0 L415.0,484.5 L409.5,484.5 L409.5,483.5 L407.5,483.5 L407.5,484.5 L405.0,484.5 L405.0,481.0 L403.0,481.0 L403.0,482.5 L399.5,482.5 L399.5,483.0 L396.5,483.0 L396.5,482.5 L391.5,482.5 L391.5,484.0 L389.5,484.0 L389.5,483.0 L387.0,483.0 L387.0,482.5 L383.0,482.5 L383.0,481.0 L380.0,481.0 L380.0,481.5 L378.5,481.5 L378.5,482.0 L376.0,482.0 L376.0,484.5 L371.0,484.5 L371.0,481.0 L368.0,481.0 L368.0,481.5 L366.0,481.5 L366.0,482.5 L363.5,482.5 L363.5,481.5 L361.0,481.5 L361.0,481.0 L356.0,481.0 L356.0,483.0 L354.0,483.0 L354.0,482.5 L351.0,482.5 L351.0,482.0 L348.0,482.0 L348.0,481.5 L346.5,481.5 L346.5,482.5 L344.5,482.5 L344.5,481.5 L341.5,481.5 L341.5,482.0 L339.0,482.0 L339.0,483.0 L337.0,483.0 L337.0,482.5 L335.0,482.5 L335.0,484.0 L332.0,484.0 L332.0,482.5 L330.5,482.5 L330.5,483.0 L328.5,483.0 L328.5,481.5 L326.0,481.5 L326.0,483.0 L323.0,483.0 L323.0,484.0 L319.5,484.0 L319.5,481.0 L317.0,481.0 L317.0,482.0 L311.0,482.0 L311.0,481.5 L309.0,481.5 L309.0,481.0 L304.5,481.0 L304.5,482.5 L301.5,482.5 L301.5,486.0 L299.0,486.0 L299.0,483.0 L297.5,483.0 L297.5,481.0 L294.5,481.0 L294.5,482.5 L290.0,482.5 L290.0,485.0 L288.5,485.0 L288.5,481.0 L285.0,481.0 L285.0,483.0 L282.5,483.0 L282.5,482.0 L277.0,482.0 L277.0,483.0 L275.5,483.0 L275.5,484.0 L272.5,484.0 L272.5,482.5 L270.5,482.5 L270.5,483.0 L268.5,483.0 L268.5,484.0 L266.0,484.0 L266.0,481.5 L263.0,481.5 L263.0,482.5 L261.0,482.5 L261.0,482.0 L259.5,482.0 L259.5,483.0 L252.5,483.0 L252.5,482.5 L250.0,482.5 L250.0,484.5 L248.0,484.5 L248.0,486.5 L244.0,486.5 L244.0,481.0 L241.0,481.0 L241.0,482.0 L239.5,482.0 L239.5,481.0 L233.5,481.0 L233.5,482.0 L232.0,482.0 L232.0,482.5 L229.5,482.5 L229.5,483.0 L227.0,483.0 L227.0,483.5 L225.0,483.5 L225.0,484.0 L222.5,484.0 L222.5,481.5 L221.0,481.5 L221.0,482.0 L219.5,482.0 L219.5,482.5 L217.5,482.5 L217.5,482.0 L214.0,482.0 L214.0,485.0 L212.0,485.0 L212.0,481.5 L208.5,481.5 L208.5,481.0 L206.5,481.0 L206.5,481.5 L203.0,481.5 L203.0,481.0 L200.5,481.0 L200.5,483.0 L198.0,483.0 L198.0,485.0 L195.0,485.0 L195.0,482.0 L193.0,482.0 L193.0,483.0 L189.5,483.0 L189.5,481.5 L188.0,481.5 L188.0,482.0 L184.5,482.0 L184.5,481.0 L182.5,481.0 L182.5,485.0 L180.0,485.0 L180.0,481.5 L177.0,481.5 L177.0,482.0 L174.5,482.0 L174.5,481.5 L173.0,481.5 L173.0,482.5 L171.5,482.5 L171.5,484.5 L169.5,484.5 L169.5,483.0 L167.0,483.0 L167.0,481.0 L164.5,481.0 L164.5,482.5 L161.0,482.5 L161.0,482.0 L159.0,482.0 L159.0,481.0 L157.5,481.0 L157.5,483.5 L154.5,483.5 L154.5,484.5 L152.5,484.5 L152.5,481.5 L149.5,481.5 L149.5,481.0 L148.0,481.0 L148.0,482.5 L146.0,482.5 L146.0,481.5 L143.5,481.5 L143.5,481.0 L141.0,481.0 L141.0,481.5 L138.0,481.5 L138.0,483.0 L136.0,483.0 L136.0,482.5 L134.0,482.5 L134.0,484.0 L131.0,484.0 L131.0,481.0 L129.5,481.0 L129.5,483.0 L127.5,483.0 L127.5,482.0 L121.5,482.0 L121.5,484.5 L118.0,484.5 L118.0,482.0 L115.5,482.0 L115.5,483.0 L112.5,483.0 L112.5,482.0 L109.5,482.0 L109.5,487.0 L108.0,487.0 L108.0,481.5 L105.5,481.5 L105.5,481.0 L102.5,481.0 L102.5,482.0 L99.0,482.0 L99.0,484.0 L93.5,484.0 L93.5,482.5 L88.5,482.5 L88.5,484.0 L86.5,484.0 L86.5,483.0 L84.0,483.0 L84.0,484.0 L82.0,484.0 L82.0,482.0 L79.0,482.0 L79.0,484.0 L76.0,484.0 L76.0,482.5 L73.5,482.5 L73.5,481.5 L71.5,481.5 L71.5,483.0 L68.5,483.0 L68.5,484.0 L65.5,484.0 L65.5,484.5 L63.5,484.5 L63.5,482.0 L61.5,482.0 L61.5,481.0 L58.5,481.0 L58.5,483.0 L56.5,483.0 L56.5,483.5 L53.5,483.5 L53.5,484.0 L45.0,484.0 L45.0,482.5 L42.5,482.5 L42.5,483.0 L41.0,483.0 L41.0,483.5 L36.0,483.5 Z" fill="#FF00FF"/>
<path d="M37.0,460.5 L41.5,460.5 L41.5,458.0 L43.5,458.0 L43.5,459.5 L46.0,459.5 L46.0,452.5 L47.5,452.5 L47.5,452.0 L48.5,452.0 L48.5,462.0 L53.0,462.0 L53.0,465.5 L56.5,465.5 L56.5,466.0 L59.5,466.0 L59.5,454.5 L61.0,454.5 L61.0,455.0 L63.5,455.0 L63.5,439.0 L65.5,439.0 L65.5,454.0 L71.0,454.0 L71.0,447.0 L71.5,447.0 L71.5,447.5 L73.5,447.5 L73.5,456.5 L77.0,456.5 L77.0,448.0 L80.0,448.0 L80.0,459.0 L84.0,459.0 L84.0,447.0 L86.5,447.0 L86.5,456.5 L91.5,456.5 L91.5,454.5 L92.0,454.5 L92.0,458.5 L94.5,458.5 L94.5,459.0 L97.5,459.0 L97.5,455.5 L100.0,455.5 L100.0,454.5 L100.5,454.5 L100.5,459.0 L105.0,459.0 L105.0,458.5 L107.0,458.5 L107.0,445.5 L107.5,445.5 L107.5,446.5 L110.0,446.5 L110.0,450.5 L113.5,450.5 L113.5,459.0 L117.0,459.0 L117.0,459.5 L120.5,459.5 L120.5,458.0 L123.5,458.0 L123.5,457.5 L125.0,457.5 L125.0,455.0 L126.0,455.0 L126.0,455.5 L130.5,455.5 L130.5,455.0 L131.5,455.0 L131.5,465.0 L137.0,465.0 L137.0,459.5 L137.5,459.5 L137.5,460.0 L141.5,460.0 L141.5,459.0 L143.0,459.0 L143.0,454.5 L147.5,454.5 L147.5,455.0 L149.0,455.0 L149.0,460.0 L152.5,460.0 L152.5,441.5 L155.0,441.5 L155.0,457.5 L157.5,457.5 L157.5,460.5 L161.0,460.5 L161.0,458.0 L163.0,458.0 L163.0,455.5 L164.0,455.5 L164.0,456.0 L168.0,456.0 L168.0,462.0 L171.0,462.0 L171.0,462.5 L173.5,462.5 L173.5,458.5 L178.5,458.5 L178.5,447.5 L180.0,447.5 L180.0,451.0 L184.5,451.0 L184.5,463.5 L189.0,463.5 L189.0,455.0 L190.0,455.0 L190.0,455.5 L193.0,455.5 L193.0,460.5 L198.0,460.5 L198.0,447.0 L201.0,447.0 L201.0,455.5 L204.5,455.5 L204.5,457.0 L207.0,457.0 L207.0,452.5 L209.0,452.5 L209.0,452.0 L211.0,452.0 L211.0,449.5 L213.5,449.5 L213.5,450.0 L214.0,450.0 L214.0,462.5 L218.0,462.5 L218.0,452.5 L219.0,452.5 L219.0,455.0 L220.0,455.0 L220.0,467.5 L225.0,467.5 L225.0,461.0 L227.0,461.0 L227.0,460.5 L228.5,460.5 L228.5,457.0 L232.0,457.0 L232.0,454.0 L237.5,454.0 L237.5,453.5 L238.0,453.5 L238.0,448.5 L239.5,448.5 L239.5,451.5 L244.5,451.5 L244.5,426.0 L247.0,426.0 L247.0,451.5 L253.5,451.5 L253.5,451.0 L254.5,451.0 L254.5,449.0 L255.0,449.0 L255.0,450.0 L257.5,450.0 L257.5,459.5 L261.0,459.5 L261.0,460.5 L263.0,460.5 L263.0,463.5 L266.5,463.5 L266.5,455.0 L270.0,455.0 L270.0,453.5 L270.5,453.5 L270.5,447.5 L272.0,447.5 L272.0,445.0 L273.0,445.0 L273.0,451.0 L275.0,451.0 L275.0,458.5 L277.0,458.5 L277.0,459.0 L280.0,459.0 L280.0,446.5 L282.5,446.5 L282.5,453.5 L285.5,453.5 L285.5,456.5 L289.0,456.5 L289.0,457.5 L293.0,457.5 L293.0,458.5 L299.0,458.5 L299.0,451.5 L301.5,451.5 L301.5,460.5 L304.5,460.5 L304.5,461.5 L312.0,461.5 L312.0,466.0 L318.5,466.0 L318.5,460.0 L320.5,460.0 L320.5,459.5 L322.0,459.5 L322.0,457.5 L324.5,457.5 L324.5,459.5 L327.0,459.5 L327.0,456.0 L330.0,456.0 L330.0,447.5 L332.5,447.5 L332.5,453.5 L335.0,453.5 L335.0,454.0 L337.0,454.0 L337.0,459.0 L341.5,459.0 L341.5,463.0 L345.5,463.0 L345.5,446.5 L348.0,446.5 L348.0,462.5 L352.5,462.5 L352.5,455.5 L354.5,455.5 L354.5,453.5 L355.5,453.5 L355.5,461.0 L359.5,461.0 L359.5,456.0 L361.5,456.0 L361.5,461.0 L364.0,461.0 L364.0,464.5 L370.0,464.5 L370.0,453.5 L371.5,453.5 L371.5,454.0 L374.0,454.0 L374.0,459.0 L379.5,459.0 L379.5,458.5 L384.0,458.5 L384.0,456.0 L385.0,456.0 L385.0,458.5 L385.5,458.5 L385.5,459.5 L387.5,459.5 L387.5,460.0 L392.5,460.0 L392.5,446.0 L394.0,446.0 L394.0,448.0 L399.0,448.0 L399.0,456.5 L402.5,456.5 L402.5,453.5 L403.5,453.5 L403.5,460.0 L409.0,460.0 L409.0,458.5 L410.5,458.5 L410.5,458.0 L413.5,458.0 L413.5,441.5 L415.0,441.5 L415.0,459.0 L417.0,459.0 L417.0,461.0 L420.5,461.0 L420.5,447.5 L423.0,447.5 L423.0,459.5 L426.0,459.5 L426.0,460.5 L431.0,460.5 L431.0,455.0 L434.0,455.0 L434.0,460.5 L439.0,460.5 L439.0,460.0 L440.0,460.0 L440.0,457.5 L441.5,457.5 L441.5,464.5 L444.0,464.5 L444.0,465.0 L447.0,465.0 L447.0,457.0 L449.5,457.0 L449.5,439.5 L450.0,439.5 L450.0,440.0 L451.5,440.0 L451.5,455.0 L453.5,455.0 L453.5,462.5 L457.0,462.5 L457.0,463.0 L460.5,463.0 L460.5,461.0 L462.0,461.0 L462.0,460.0 L464.0,460.0 L464.0,450.5 L465.5,450.5 L465.5,453.0 L470.0,453.0 L470.0,455.0 L472.5,455.0 L472.5,456.5 L478.0,456.5 L478.0,456.0 L483.0,456.0 L483.0,454.0 L484.5,454.0 L484.5,460.0 L488.5,460.0 L488.5,451.5 L489.5,451.5 L489.5,452.5 L491.0,452.5 L491.0,461.5 L495.5,461.5 L495.5,449.5 L497.0,449.5 L497.0,450.5 L498.0,450.5 L498.0,461.0 L501.0,461.0 L501.0,462.0 L503.0,462.0 L503.0,464.5 L506.5,464.5 L506.5,461.0 L509.5,461.0 L509.5,451.5 L511.5,451.5 L511.5,453.0 L512.5,453.0 L512.5,463.5 L515.0,463.5 L515.0,480.0 L512.5,480.0 L512.5,481.0 L507.5,481.0 L507.5,481.5 L505.0,481.5 L505.0,483.5 L504.5,483.5 L504.5,481.5 L503.0,481.5 L503.0,481.0 L498.5,481.0 L498.5,482.0 L496.5,482.0 L496.5,483.0 L495.5,483.0 L495.5,482.0 L490.5,482.0 L490.5,480.0 L486.5,480.0 L486.5,484.0 L486.0,484.0 L486.0,480.5 L481.0,480.5 L481.0,481.0 L479.5,481.0 L479.5,481.5 L478.5,481.5 L478.5,481.0 L473.5,481.0 L473.5,480.5 L469.0,480.5 L469.0,481.5 L458.0,481.5 L458.0,480.0 L453.5,480.0 L453.5,480.5 L452.0,480.5 L452.0,485.0 L450.0,485.0 L450.0,481.5 L445.0,481.5 L445.0,481.0 L439.5,481.0 L439.5,481.5 L439.0,481.5 L439.0,480.5 L435.0,480.5 L435.0,481.0 L432.0,481.0 L432.0,481.5 L424.5,481.5 L424.5,480.0 L419.5,480.0 L419.5,483.5 L418.5,483.5 L418.5,481.0 L414.0,481.0 L414.0,483.5 L410.5,483.5 L410.5,482.5 L406.5,482.5 L406.5,483.5 L406.0,483.5 L406.0,480.0 L402.0,480.0 L402.0,481.5 L398.5,481.5 L398.5,482.0 L397.5,482.0 L397.5,481.5 L390.5,481.5 L390.5,482.0 L388.0,482.0 L388.0,481.5 L384.0,481.5 L384.0,480.0 L379.0,480.0 L379.0,480.5 L377.5,480.5 L377.5,481.0 L375.0,481.0 L375.0,483.5 L372.0,483.5 L372.0,480.0 L367.0,480.0 L367.0,480.5 L365.0,480.5 L365.0,481.5 L364.5,481.5 L364.5,480.5 L362.0,480.5 L362.0,480.0 L355.0,480.0 L355.0,481.5 L352.0,481.5 L352.0,481.0 L349.0,481.0 L349.0,480.5 L340.5,480.5 L340.5,481.0 L338.0,481.0 L338.0,481.5 L334.0,481.5 L334.0,483.0 L333.0,483.0 L333.0,481.5 L329.5,481.5 L329.5,480.5 L325.0,480.5 L325.0,482.0 L322.0,482.0 L322.0,483.0 L320.5,483.0 L320.5,480.0 L316.0,480.0 L316.0,481.0 L312.0,481.0 L312.0,480.5 L310.0,480.5 L310.0,480.0 L303.5,480.0 L303.5,481.5 L300.5,481.5 L300.5,485.0 L300.0,485.0 L300.0,482.0 L298.5,482.0 L298.5,480.0 L293.5,480.0 L293.5,481.5 L289.5,481.5 L289.5,480.0 L284.0,480.0 L284.0,482.0 L283.5,482.0 L283.5,481.0 L276.0,481.0 L276.0,482.0 L274.5,482.0 L274.5,483.0 L273.5,483.0 L273.5,481.5 L269.5,481.5 L269.5,482.0 L267.5,482.0 L267.5,483.0 L267.0,483.0 L267.0,480.5 L262.0,480.5 L262.0,481.0 L258.5,481.0 L258.5,482.0 L253.5,482.0 L253.5,481.5 L249.0,481.5 L249.0,483.5 L247.0,483.5 L247.0,485.5 L245.0,485.5 L245.0,480.0 L232.5,480.0 L232.5,481.0 L231.0,481.0 L231.0,481.5 L228.5,481.5 L228.5,482.0 L226.0,482.0 L226.0,482.5 L224.0,482.5 L224.0,483.0 L223.5,483.0 L223.5,480.5 L220.0,480.5 L220.0,481.0 L213.0,481.0 L213.0,480.5 L209.5,480.5 L209.5,480.0 L205.5,480.0 L205.5,480.5 L204.0,480.5 L204.0,480.0 L199.5,480.0 L199.5,482.0 L197.0,482.0 L197.0,484.0 L196.0,484.0 L196.0,481.0 L192.0,481.0 L192.0,482.0 L190.5,482.0 L190.5,480.5 L187.0,480.5 L187.0,481.0 L185.5,481.0 L185.5,480.0 L181.5,480.0 L181.5,484.0 L181.0,484.0 L181.0,480.5 L176.0,480.5 L176.0,481.0 L175.5,481.0 L175.5,480.5 L172.0,480.5 L172.0,481.5 L170.5,481.5 L170.5,482.0 L168.0,482.0 L168.0,480.0 L163.5,480.0 L163.5,481.5 L162.0,481.5 L162.0,481.0 L160.0,481.0 L160.0,480.0 L156.5,480.0 L156.5,482.5 L153.5,482.5 L153.5,480.5 L150.5,480.5 L150.5,480.0 L147.0,480.0 L147.0,480.5 L144.5,480.5 L144.5,480.0 L140.0,480.0 L140.0,480.5 L137.0,480.5 L137.0,481.5 L133.0,481.5 L133.0,483.0 L132.0,483.0 L132.0,480.0 L128.5,480.0 L128.5,481.0 L120.5,481.0 L120.5,483.5 L119.0,483.5 L119.0,481.0 L114.5,481.0 L114.5,482.0 L113.5,482.0 L113.5,481.0 L109.0,481.0 L109.0,480.5 L106.5,480.5 L106.5,480.0 L101.5,480.0 L101.5,481.0 L98.0,481.0 L98.0,483.0 L94.5,483.0 L94.5,481.5 L87.5,481.5 L87.5,482.0 L83.0,482.0 L83.0,481.0 L78.0,481.0 L78.0,483.0 L77.0,483.0 L77.0,481.5 L74.5,481.5 L74.5,480.5 L70.5,480.5 L70.5,482.0 L67.5,482.0 L67.5,483.0 L64.5,483.0 L64.5,481.0 L62.5,481.0 L62.5,480.0 L57.5,480.0 L57.5,482.0 L55.5,482.0 L55.5,482.5 L52.5,482.5 L52.5,483.0 L46.0,483.0 L46.0,481.5 L41.5,481.5 L41.5,482.0 L40.0,482.0 L40.0,482.5 L37.0,482.5 Z" fill="#E27D1E"/>
<path d="M36.0,459.5 L40.5,459.5 L40.5,457.0 L44.5,457.0 L44.5,458.5 L45.0,458.5 L45.0,451.5 L46.5,451.5 L46.5,451.0 L49.5,451.0 L49.5,461.0 L53.5,461.0 L53.5,458.5 L54.0,458.5 L54.0,464.5 L57.5,464.5 L57.5,465.0 L58.5,465.0 L58.5,453.5 L62.0,453.5 L62.0,454.0 L62.5,454.0 L62.5,438.0 L64.5,438.0 L64.5,437.0 L66.5,437.0 L66.5,453.0 L70.0,453.0 L70.0,446.0 L72.5,446.0 L72.5,446.5 L74.5,446.5 L74.5,455.5 L76.0,455.5 L76.0,446.5 L78.0,446.5 L78.0,447.0 L81.0,447.0 L81.0,458.0 L83.0,458.0 L83.0,446.0 L86.5,446.0 L86.5,445.0 L87.5,445.0 L87.5,455.5 L90.5,455.5 L90.5,453.5 L93.0,453.5 L93.0,457.5 L95.5,457.5 L95.5,458.0 L96.5,458.0 L96.5,454.5 L99.0,454.5 L99.0,453.5 L101.5,453.5 L101.5,458.0 L104.0,458.0 L104.0,457.5 L106.0,457.5 L106.0,444.5 L108.5,444.5 L108.5,445.5 L111.0,445.5 L111.0,449.5 L113.0,449.5 L113.0,449.0 L114.5,449.0 L114.5,458.0 L118.0,458.0 L118.0,458.5 L119.5,458.5 L119.5,457.0 L122.5,457.0 L122.5,456.5 L124.0,456.5 L124.0,454.0 L127.0,454.0 L127.0,454.5 L129.5,454.5 L129.5,454.0 L132.5,454.0 L132.5,464.0 L136.0,464.0 L136.0,458.5 L138.5,458.5 L138.5,459.0 L140.5,459.0 L140.5,458.0 L142.0,458.0 L142.0,453.5 L148.5,453.5 L148.5,454.0 L149.0,454.0 L149.0,451.5 L150.0,451.5 L150.0,459.0 L151.5,459.0 L151.5,440.5 L154.0,440.5 L154.0,439.0 L156.0,439.0 L156.0,456.5 L158.5,456.5 L158.5,459.5 L160.0,459.5 L160.0,457.0 L162.0,457.0 L162.0,454.5 L165.0,454.5 L165.0,455.0 L169.0,455.0 L169.0,461.0 L172.0,461.0 L172.0,461.5 L172.5,461.5 L172.5,457.5 L177.5,457.5 L177.5,446.5 L181.0,446.5 L181.0,450.0 L184.0,450.0 L184.0,448.0 L185.5,448.0 L185.5,462.5 L188.0,462.5 L188.0,454.0 L191.0,454.0 L191.0,454.5 L192.5,454.5 L192.5,453.5 L194.0,453.5 L194.0,459.5 L197.0,459.5 L197.0,446.0 L202.0,446.0 L202.0,454.5 L205.5,454.5 L205.5,456.0 L206.0,456.0 L206.0,451.5 L208.0,451.5 L208.0,451.0 L210.0,451.0 L210.0,448.5 L212.5,448.5 L212.5,447.0 L214.5,447.0 L214.5,449.0 L215.0,449.0 L215.0,461.5 L217.0,461.5 L217.0,451.5 L220.0,451.5 L220.0,454.0 L221.0,454.0 L221.0,466.5 L224.0,466.5 L224.0,460.0 L226.0,460.0 L226.0,459.5 L227.5,459.5 L227.5,456.0 L231.0,456.0 L231.0,452.5 L233.0,452.5 L233.0,453.0 L236.5,453.0 L236.5,452.5 L237.0,452.5 L237.0,447.5 L240.5,447.5 L240.5,450.5 L243.5,450.5 L243.5,423.0 L245.0,423.0 L245.0,425.0 L248.0,425.0 L248.0,450.5 L252.5,450.5 L252.5,450.0 L253.5,450.0 L253.5,448.0 L256.0,448.0 L256.0,449.0 L257.5,449.0 L257.5,448.0 L258.5,448.0 L258.5,458.5 L262.0,458.5 L262.0,459.5 L264.0,459.5 L264.0,462.5 L265.5,462.5 L265.5,454.0 L269.0,454.0 L269.0,452.5 L269.5,452.5 L269.5,446.5 L271.0,446.5 L271.0,444.0 L274.0,444.0 L274.0,450.0 L276.0,450.0 L276.0,457.5 L278.0,457.5 L278.0,458.0 L279.0,458.0 L279.0,445.5 L282.5,445.5 L282.5,445.0 L283.5,445.0 L283.5,452.5 L286.5,452.5 L286.5,455.5 L289.5,455.5 L289.5,454.0 L290.0,454.0 L290.0,456.5 L292.5,456.5 L292.5,456.0 L294.0,456.0 L294.0,457.5 L298.0,457.5 L298.0,450.5 L301.5,450.5 L301.5,450.0 L302.5,450.0 L302.5,459.5 L305.5,459.5 L305.5,460.5 L313.0,460.5 L313.0,465.0 L317.5,465.0 L317.5,459.0 L319.5,459.0 L319.5,458.5 L321.0,458.5 L321.0,456.0 L323.0,456.0 L323.0,456.5 L325.5,456.5 L325.5,458.5 L326.0,458.5 L326.0,455.0 L329.0,455.0 L329.0,446.5 L333.5,446.5 L333.5,452.5 L336.0,452.5 L336.0,453.0 L338.0,453.0 L338.0,458.0 L342.0,458.0 L342.0,456.5 L342.5,456.5 L342.5,462.0 L344.5,462.0 L344.5,445.5 L349.0,445.5 L349.0,461.5 L351.5,461.5 L351.5,454.5 L353.5,454.5 L353.5,452.5 L356.5,452.5 L356.5,460.0 L358.5,460.0 L358.5,455.0 L362.5,455.0 L362.5,460.0 L365.0,460.0 L365.0,463.5 L369.0,463.5 L369.0,452.5 L372.5,452.5 L372.5,453.0 L374.5,453.0 L374.5,452.5 L375.0,452.5 L375.0,458.0 L378.5,458.0 L378.5,457.5 L383.0,457.5 L383.0,455.0 L386.0,455.0 L386.0,457.5 L386.5,457.5 L386.5,458.5 L388.5,458.5 L388.5,459.0 L391.5,459.0 L391.5,445.0 L395.0,445.0 L395.0,447.0 L400.0,447.0 L400.0,455.5 L401.5,455.5 L401.5,452.5 L404.5,452.5 L404.5,459.0 L408.0,459.0 L408.0,457.5 L409.5,457.5 L409.5,457.0 L412.5,457.0 L412.5,440.5 L416.0,440.5 L416.0,458.0 L418.0,458.0 L418.0,460.0 L419.5,460.0 L419.5,446.5 L422.5,446.5 L422.5,444.5 L424.0,444.5 L424.0,458.5 L427.0,458.5 L427.0,459.5 L430.0,459.5 L430.0,454.0 L435.0,454.0 L435.0,459.5 L438.0,459.5 L438.0,459.0 L439.0,459.0 L439.0,456.5 L442.5,456.5 L442.5,463.5 L445.0,463.5 L445.0,464.0 L446.0,464.0 L446.0,456.0 L448.5,456.0 L448.5,438.5 L451.0,438.5 L451.0,439.0 L452.5,439.0 L452.5,454.0 L454.5,454.0 L454.5,461.5 L458.0,461.5 L458.0,462.0 L459.5,462.0 L459.5,460.0 L461.0,460.0 L461.0,459.0 L463.0,459.0 L463.0,449.5 L466.5,449.5 L466.5,452.0 L469.5,452.0 L469.5,451.5 L471.0,451.5 L471.0,454.0 L473.5,454.0 L473.5,455.5 L477.0,455.5 L477.0,455.0 L482.0,455.0 L482.0,453.0 L484.5,453.0 L484.5,452.5 L485.5,452.5 L485.5,459.0 L487.5,459.0 L487.5,450.5 L490.5,450.5 L490.5,451.5 L492.0,451.5 L492.0,460.5 L494.5,460.5 L494.5,448.5 L498.0,448.5 L498.0,449.5 L499.0,449.5 L499.0,460.0 L502.0,460.0 L502.0,461.0 L504.0,461.0 L504.0,463.5 L505.5,463.5 L505.5,460.0 L508.5,460.0 L508.5,450.5 L512.5,450.5 L512.5,452.0 L513.5,452.0 L513.5,462.5 L516.0,462.5 L516.0,482.5 L515.5,482.5 L515.5,481.0 L513.5,481.0 L513.5,482.0 L508.5,482.0 L508.5,482.5 L506.0,482.5 L506.0,484.5 L503.5,484.5 L503.5,482.5 L502.0,482.5 L502.0,482.0 L499.5,482.0 L499.5,483.0 L497.5,483.0 L497.5,484.0 L494.5,484.0 L494.5,483.0 L489.5,483.0 L489.5,481.0 L487.5,481.0 L487.5,485.0 L485.0,485.0 L485.0,481.5 L482.0,481.5 L482.0,482.0 L480.5,482.0 L480.5,482.5 L477.5,482.5 L477.5,482.0 L472.5,482.0 L472.5,481.5 L470.0,481.5 L470.0,484.5 L468.0,484.5 L468.0,482.5 L466.5,482.5 L466.5,483.0 L464.5,483.0 L464.5,482.5 L457.0,482.5 L457.0,481.0 L454.5,481.0 L454.5,481.5 L453.0,481.5 L453.0,486.0 L449.0,486.0 L449.0,482.5 L445.5,482.5 L445.5,483.5 L444.0,483.5 L444.0,482.0 L440.5,482.0 L440.5,482.5 L438.0,482.5 L438.0,481.5 L436.0,481.5 L436.0,482.0 L433.0,482.0 L433.0,482.5 L423.5,482.5 L423.5,481.0 L420.5,481.0 L420.5,484.5 L417.5,484.5 L417.5,482.0 L415.0,482.0 L415.0,484.5 L409.5,484.5 L409.5,483.5 L407.5,483.5 L407.5,484.5 L405.0,484.5 L405.0,481.0 L403.0,481.0 L403.0,482.5 L399.5,482.5 L399.5,483.0 L396.5,483.0 L396.5,482.5 L391.5,482.5 L391.5,484.0 L389.5,484.0 L389.5,483.0 L387.0,483.0 L387.0,482.5 L383.0,482.5 L383.0,481.0 L380.0,481.0 L380.0,481.5 L378.5,481.5 L378.5,482.0 L376.0,482.0 L376.0,484.5 L371.0,484.5 L371.0,481.0 L368.0,481.0 L368.0,481.5 L366.0,481.5 L366.0,482.5 L363.5,482.5 L363.5,481.5 L361.0,481.5 L361.0,481.0 L356.0,481.0 L356.0,483.0 L354.0,483.0 L354.0,482.5 L351.0,482.5 L351.0,482.0 L348.0,482.0 L348.0,481.5 L346.5,481.5 L346.5,482.5 L344.5,482.5 L344.5,481.5 L341.5,481.5 L341.5,482.0 L339.0,482.0 L339.0,483.0 L337.0,483.0 L337.0,482.5 L335.0,482.5 L335.0,484.0 L332.0,484.0 L332.0,482.5 L330.5,482.5 L330.5,483.0 L328.5,483.0 L328.5,481.5 L326.0,481.5 L326.0,483.0 L323.0,483.0 L323.0,484.0 L319.5,484.0 L319.5,481.0 L317.0,481.0 L317.0,482.0 L311.0,482.0 L311.0,481.5 L309.0,481.5 L309.0,481.0 L304.5,481.0 L304.5,482.5 L301.5,482.5 L301.5,486.0 L299.0,486.0 L299.0,483.0 L297.5,483.0 L297.5,481.0 L294.5,481.0 L294.5,482.5 L290.0,482.5 L290.0,485.0 L288.5,485.0 L288.5,481.0 L285.0,481.0 L285.0,483.0 L282.5,483.0 L282.5,482.0 L277.0,482.0 L277.0,483.0 L275.5,483.0 L275.5,484.0 L272.5,484.0 L272.5,482.5 L270.5,482.5 L270.5,483.0 L268.5,483.0 L268.5,484.0 L266.0,484.0 L266.0,481.5 L263.0,481.5 L263.0,482.5 L261.0,482.5 L261.0,482.0 L259.5,482.0 L259.5,483.0 L252.5,483.0 L252.5,482.5 L250.0,482.5 L250.0,484.5 L248.0,484.5 L248.0,486.5 L244.0,486.5 L244.0,481.0 L241.0,481.0 L241.0,482.0 L239.5,482.0 L239.5,481.0 L233.5,481.0 L233.5,482.0 L232.0,482.0 L232.0,482.5 L229.5,482.5 L229.5,483.0 L227.0,483.0 L227.0,483.5 L225.0,483.5 L225.0,484.0 L222.5,484.0 L222.5,481.5 L221.0,481.5 L221.0,482.0 L219.5,482.0 L219.5,482.5 L217.5,482.5 L217.5,482.0 L214.0,482.0 L214.0,485.0 L212.0,485.0 L212.0,481.5 L208.5,481.5 L208.5,481.0 L206.5,481.0 L206.5,481.5 L203.0,481.5 L203.0,481.0 L200.5,481.0 L200.5,483.0 L198.0,483.0 L198.0,485.0 L195.0,485.0 L195.0,482.0 L193.0,482.0 L193.0,483.0 L189.5,483.0 L189.5,481.5 L188.0,481.5 L188.0,482.0 L184.5,482.0 L184.5,481.0 L182.5,481.0 L182.5,485.0 L180.0,485.0 L180.0,481.5 L177.0,481.5 L177.0,482.0 L174.5,482.0 L174.5,481.5 L173.0,481.5 L173.0,482.5 L171.5,482.5 L171.5,484.5 L169.5,484.5 L169.5,483.0 L167.0,483.0 L167.0,481.0 L164.5,481.0 L164.5,482.5 L161.0,482.5 L161.0,482.0 L159.0,482.0 L159.0,481.0 L157.5,481.0 L157.5,483.5 L154.5,483.5 L154.5,484.5 L152.5,484.5 L152.5,481.5 L149.5,481.5 L149.5,481.0 L148.0,481.0 L148.0,482.5 L146.0,482.5 L146.0,481.5 L143.5,481.5 L143.5,481.0 L141.0,481.0 L141.0,481.5 L138.0,481.5 L138.0,483.0 L136.0,483.0 L136.0,482.5 L134.0,482.5 L134.0,484.0 L131.0,484.0 L131.0,481.0 L129.5,481.0 L129.5,483.0 L127.5,483.0 L127.5,482.0 L121.5,482.0 L121.5,484.5 L118.0,484.5 L118.0,482.0 L115.5,482.0 L115.5,483.0 L112.5,483.0 L112.5,482.0 L109.5,482.0 L109.5,487.0 L108.0,487.0 L108.0,481.5 L105.5,481.5 L105.5,481.0 L102.5,481.0 L102.5,482.0 L99.0,482.0 L99.0,484.0 L93.5,484.0 L93.5,482.5 L88.5,482.5 L88.5,484.0 L86.5,484.0 L86.5,483.0 L84.0,483.0 L84.0,484.0 L82.0,484.0 L82.0,482.0 L79.0,482.0 L79.0,484.0 L76.0,484.0 L76.0,482.5 L73.5,482.5 L73.5,481.5 L71.5,481.5 L71.5,483.0 L68.5,483.0 L68.5,484.0 L65.5,484.0 L65.5,484.5 L63.5,484.5 L63.5,482.0 L61.5,482.0 L61.5,481.0 L58.5,481.0 L58.5,483.0 L56.5,483.0 L56.5,483.5 L53.5,483.5 L53.5,484.0 L45.0,484.0 L45.0,482.5 L42.5,482.5 L42.5,483.0 L41.0,483.0 L41.0,483.5 L36.0,483.5 Z" fill="none" stroke="#E27D1E" stroke-width="1.1" stroke-dasharray="1 2.6"/>
<path d="M174.5,460.8 h1v1.2h-1zM183.0,456.7 h1v1.2h-1zM344.5,448.1 h1v1.2h-1zM383.0,458.2 h1v1.2h-1zM341.0,461.7 h1v1.2h-1zM459.0,464.3 h1v1.2h-1zM183.5,453.0 h1v1.2h-1zM235.5,457.1 h1v1.2h-1zM57.0,467.3 h1v1.2h-1zM327.0,459.0 h1v1.2h-1zM379.5,459.7 h1v1.2h-1zM377.0,460.3 h1v1.2h-1zM133.5,466.2 h1v1.2h-1zM152.0,443.0 h1v1.2h-1zM341.0,464.4 h1v1.2h-1zM472.5,456.7 h1v1.2h-1zM493.5,465.0 h1v1.2h-1zM507.5,462.8 h1v1.2h-1zM151.5,447.2 h1v1.2h-1zM353.0,459.7 h1v1.2h-1zM477.5,457.5 h1v1.2h-1zM450.5,440.5 h1v1.2h-1zM181.5,452.4 h1v1.2h-1zM49.5,463.1 h1v1.2h-1zM489.5,452.6 h1v1.2h-1zM505.0,466.3 h1v1.2h-1zM433.0,459.6 h1v1.2h-1zM223.5,470.1 h1v1.2h-1zM278.0,461.1 h1v1.2h-1zM485.0,456.7 h1v1.2h-1zM45.5,455.5 h1v1.2h-1zM150.0,461.2 h1v1.2h-1zM370.0,454.5 h1v1.2h-1zM145.0,458.2 h1v1.2h-1zM490.5,455.8 h1v1.2h-1zM179.5,448.5 h1v1.2h-1zM55.5,467.2 h1v1.2h-1zM415.5,443.1 h1v1.2h-1zM511.0,452.5 h1v1.2h-1zM115.0,461.2 h1v1.2h-1zM333.0,450.1 h1v1.2h-1zM356.5,464.2 h1v1.2h-1zM131.0,460.8 h1v1.2h-1zM425.5,460.7 h1v1.2h-1zM466.5,455.8 h1v1.2h-1zM434.5,457.0 h1v1.2h-1zM368.5,465.7 h1v1.2h-1zM126.0,456.9 h1v1.2h-1zM365.5,467.4 h1v1.2h-1zM123.5,460.6 h1v1.2h-1zM265.0,466.7 h1v1.2h-1zM137.5,460.9 h1v1.2h-1zM291.5,458.7 h1v1.2h-1zM427.0,462.2 h1v1.2h-1zM242.0,452.5 h1v1.2h-1zM251.5,452.5 h1v1.2h-1zM110.0,449.4 h1v1.2h-1zM281.0,450.6 h1v1.2h-1zM69.5,460.6 h1v1.2h-1zM412.0,464.4 h1v1.2h-1zM71.0,448.3 h1v1.2h-1zM286.0,455.6 h1v1.2h-1zM444.0,466.8 h1v1.2h-1zM154.0,443.4 h1v1.2h-1zM87.5,457.6 h1v1.2h-1zM349.0,466.2 h1v1.2h-1zM289.5,460.1 h1v1.2h-1zM250.5,453.3 h1v1.2h-1zM452.0,447.4 h1v1.2h-1zM404.0,456.6 h1v1.2h-1zM193.5,460.6 h1v1.2h-1zM400.0,459.5 h1v1.2h-1zM491.0,453.6 h1v1.2h-1zM303.0,463.9 h1v1.2h-1zM284.5,454.8 h1v1.2h-1zM341.5,462.7 h1v1.2h-1zM469.5,453.5 h1v1.2h-1zM440.5,459.7 h1v1.2h-1zM112.0,453.3 h1v1.2h-1zM140.0,461.1 h1v1.2h-1zM391.0,462.3 h1v1.2h-1zM145.5,458.1 h1v1.2h-1zM254.5,453.0 h1v1.2h-1zM353.0,456.8 h1v1.2h-1zM56.0,469.7 h1v1.2h-1zM171.5,464.4 h1v1.2h-1zM371.5,454.9 h1v1.2h-1zM207.0,454.5 h1v1.2h-1zM212.5,449.4 h1v1.2h-1zM129.5,457.3 h1v1.2h-1zM75.5,463.1 h1v1.2h-1zM214.0,449.5 h1v1.2h-1zM110.0,448.1 h1v1.2h-1zM43.0,459.5 h1v1.2h-1zM214.0,452.2 h1v1.2h-1zM200.5,448.4 h1v1.2h-1zM347.0,447.5 h1v1.2h-1zM213.0,454.8 h1v1.2h-1zM452.5,457.6 h1v1.2h-1zM147.0,460.7 h1v1.2h-1zM124.5,456.5 h1v1.2h-1zM472.5,456.1 h1v1.2h-1zM267.5,457.5 h1v1.2h-1zM512.5,454.3 h1v1.2h-1zM180.0,449.5 h1v1.2h-1zM161.5,459.7 h1v1.2h-1zM207.0,455.9 h1v1.2h-1zM401.5,456.8 h1v1.2h-1zM42.0,459.6 h1v1.2h-1zM378.0,460.6 h1v1.2h-1z" fill="#FF00FF" opacity="0.8"/>
<rect x="297.4" y="319.1" width="212.5" height="77.6" fill="#fff" stroke="#9a9a9a" stroke-width="1"/>
<path d="M300.4,333.6 H321.4" stroke="#1414FF" stroke-width="1.2"/>
<text x="323.6" y="340.0" class="l">Truncated ETDM (<tspan font-style="italic">ε</tspan> = 5×10<tspan dy="-5.5" font-size="11.5">−3</tspan><tspan dy="5.5">)</tspan></text>
<path d="M300.4,360.1 H321.4" stroke="#FF00FF" stroke-width="1.1" stroke-dasharray="5 2 1 2"/>
<path d="M307.7,356.6 l7,7 M307.7,363.6 l7,-7" stroke="#FF00FF" stroke-width="1.2" fill="none"/>
<text x="323.6" y="365.6" class="l">Truncated ETDM (<tspan font-style="italic">ε</tspan> = 5×10<tspan dy="-5.5" font-size="11.5">−2</tspan><tspan dy="5.5">)</tspan></text>
<rect x="300.4" y="382.6" width="3.8" height="3.9" rx="0.5" fill="#E27D1E"/>
<rect x="307.0" y="382.6" width="3.8" height="3.9" rx="0.5" fill="#E27D1E"/>
<rect x="313.6" y="382.6" width="3.8" height="3.9" rx="0.5" fill="#E27D1E"/>
<text x="323.6" y="389.4" class="l">Newmark-<tspan font-style="italic">β</tspan> method</text>
<rect x="453" y="318.5" width="5.6" height="1.1" fill="#E27D1E"/>
<rect x="461" y="318.5" width="1.6" height="1.1" fill="#b040e0"/>
<rect x="16.9" y="279.8" width="272.4" height="118.3" fill="#fff" stroke="#1E3466" stroke-width="1.75"/>
<path d="M51.9,290.1 H46.9 V376.3 H288.4" fill="none" stroke="#4c4c4c" stroke-width="1"/>
<text x="41.6" y="294.9" text-anchor="end" class="t">20</text>
<path d="M46.9,318.8 h5" stroke="#4c4c4c" stroke-width="1"/>
<text x="41.6" y="323.6" text-anchor="end" class="t">10</text>
<path d="M46.9,347.5 h5" stroke="#4c4c4c" stroke-width="1"/>
<text x="41.6" y="352.3" text-anchor="end" class="t">0</text>
<text x="41.6" y="381.1" text-anchor="end" class="t">−10</text>
<text x="46.9" y="394.4" text-anchor="middle" class="t">4,726</text>
<path d="M99.8,376.3 v-5" stroke="#4c4c4c" stroke-width="1"/>
<text x="99.8" y="394.4" text-anchor="middle" class="t">4,727</text>
<path d="M152.7,376.3 v-5" stroke="#4c4c4c" stroke-width="1"/>
<text x="152.7" y="394.4" text-anchor="middle" class="t">4,728</text>
<path d="M205.7,376.3 v-5" stroke="#4c4c4c" stroke-width="1"/>
<text x="205.7" y="394.4" text-anchor="middle" class="t">4,729</text>
<path d="M258.6,376.3 v-5" stroke="#4c4c4c" stroke-width="1"/>
<text x="258.6" y="394.4" text-anchor="middle" class="t">4,730</text>
<text x="52.4" y="296.8" class="t" style="font-size:15.2px"><tspan font-style="italic">τ</tspan><tspan dy="7" font-size="11.8">D</tspan><tspan dy="-7" dx="0.6"> (MPa)</tspan></text>
<text x="263.6" y="371.4" class="t" style="font-size:15.2px;letter-spacing:0"><tspan font-style="italic">t</tspan> (s)</text>
<path d="M46.60,371.50 C48.50,370.08 54.10,365.83 58.00,363.00 C61.90,360.17 66.00,357.33 70.00,354.50 C74.00,351.67 78.33,348.50 82.00,346.00 C85.67,343.50 89.10,341.17 92.00,339.50 C94.90,337.83 96.73,337.00 99.40,336.00 C102.07,335.00 104.57,334.07 108.00,333.50 C111.43,332.93 115.50,332.80 120.00,332.60 C124.50,332.40 129.62,332.57 135.00,332.30 C140.38,332.03 147.30,331.80 152.30,331.00 C157.30,330.20 160.38,329.08 165.00,327.50 C169.62,325.92 173.32,324.75 180.00,321.50 C186.68,318.25 198.10,311.83 205.10,308.00 C212.10,304.17 216.68,301.42 222.00,298.50 C227.32,295.58 234.50,291.83 237.00,290.50" fill="none" stroke="#1414FF" stroke-width="1.3"/>
<path d="M46.60,371.50 C48.50,369.83 54.10,364.75 58.00,361.50 C61.90,358.25 66.00,355.08 70.00,352.00 C74.00,348.92 78.33,345.67 82.00,343.00 C85.67,340.33 89.10,337.83 92.00,336.00 C94.90,334.17 96.73,333.17 99.40,332.00 C102.07,330.83 104.57,329.73 108.00,329.00 C111.43,328.27 115.50,327.93 120.00,327.60 C124.50,327.27 129.62,327.23 135.00,327.00 C140.38,326.77 147.30,326.70 152.30,326.20 C157.30,325.70 160.38,325.12 165.00,324.00 C169.62,322.88 173.32,322.25 180.00,319.50 C186.68,316.75 198.10,311.03 205.10,307.50 C212.10,303.97 216.68,301.13 222.00,298.30 C227.32,295.47 234.50,291.80 237.00,290.50" fill="none" stroke="#FF00FF" stroke-width="1" stroke-dasharray="4 1.5 1 1.5"/>
<path d="M42.9,367.8 l7.4,7.4 M42.9,375.2 l7.4,-7.4 M53.5,358.5 l7.4,7.4 M53.5,365.9 l7.4,-7.4 M64.1,350.0 l7.4,7.4 M64.1,357.4 l7.4,-7.4 M74.7,342.0 l7.4,7.4 M74.7,349.4 l7.4,-7.4 M85.2,334.3 l7.4,7.4 M85.2,341.7 l7.4,-7.4 M95.8,328.2 l7.4,7.4 M95.8,335.6 l7.4,-7.4 M106.4,324.9 l7.4,7.4 M106.4,332.3 l7.4,-7.4 M117.0,323.9 l7.4,7.4 M117.0,331.3 l7.4,-7.4 M127.6,323.4 l7.4,7.4 M127.6,330.8 l7.4,-7.4 M138.2,323.1 l7.4,7.4 M138.2,330.5 l7.4,-7.4 M148.7,322.5 l7.4,7.4 M148.7,329.9 l7.4,-7.4 M159.3,320.8 l7.4,7.4 M159.3,328.2 l7.4,-7.4 M169.9,318.1 l7.4,7.4 M169.9,325.5 l7.4,-7.4 M180.5,314.0 l7.4,7.4 M180.5,321.4 l7.4,-7.4 M191.1,308.9 l7.4,7.4 M191.1,316.3 l7.4,-7.4 M201.7,303.7 l7.4,7.4 M201.7,311.1 l7.4,-7.4 M212.2,297.9 l7.4,7.4 M212.2,305.3 l7.4,-7.4 M222.8,292.2 l7.4,7.4 M222.8,299.6 l7.4,-7.4 M233.4,286.8 l7.4,7.4 M233.4,294.2 l7.4,-7.4" fill="none" stroke="#FF00FF" stroke-width="1.2"/>
<rect x="44.7" y="369.7" width="3.8" height="3.6" rx="0.9" fill="#E27D1E"/>
<rect x="50.2" y="365.5" width="3.8" height="3.6" rx="0.9" fill="#E27D1E"/>
<rect x="55.0" y="362.0" width="3.8" height="3.6" rx="0.9" fill="#E27D1E"/>
<rect x="60.1" y="358.4" width="3.8" height="3.6" rx="0.9" fill="#E27D1E"/>
<rect x="65.1" y="354.8" width="3.8" height="3.6" rx="0.9" fill="#E27D1E"/>
<rect x="70.1" y="351.3" width="3.8" height="3.6" rx="0.9" fill="#E27D1E"/>
<rect x="75.2" y="347.6" width="3.8" height="3.6" rx="0.9" fill="#E27D1E"/>
<rect x="80.1" y="344.2" width="3.8" height="3.6" rx="0.9" fill="#E27D1E"/>
<rect x="85.4" y="340.6" width="3.8" height="3.6" rx="0.9" fill="#E27D1E"/>
<rect x="91.3" y="337.0" width="3.8" height="3.6" rx="0.9" fill="#E27D1E"/>
<rect x="97.5" y="334.2" width="3.8" height="3.6" rx="0.9" fill="#E27D1E"/>
<rect x="103.7" y="332.2" width="3.8" height="3.6" rx="0.9" fill="#E27D1E"/>
<rect x="109.7" y="331.3" width="3.8" height="3.6" rx="0.9" fill="#E27D1E"/>
<rect x="115.9" y="330.9" width="3.8" height="3.6" rx="0.9" fill="#E27D1E"/>
<rect x="121.8" y="330.7" width="3.8" height="3.6" rx="0.9" fill="#E27D1E"/>
<rect x="127.8" y="330.7" width="3.8" height="3.6" rx="0.9" fill="#E27D1E"/>
<rect x="134.1" y="330.5" width="3.8" height="3.6" rx="0.9" fill="#E27D1E"/>
<rect x="140.3" y="330.1" width="3.8" height="3.6" rx="0.9" fill="#E27D1E"/>
<rect x="146.6" y="329.7" width="3.8" height="3.6" rx="0.9" fill="#E27D1E"/>
<rect x="152.8" y="328.8" width="3.8" height="3.6" rx="0.9" fill="#E27D1E"/>
<rect x="158.9" y="327.1" width="3.8" height="3.6" rx="0.9" fill="#E27D1E"/>
<rect x="164.9" y="325.1" width="3.8" height="3.6" rx="0.9" fill="#E27D1E"/>
<rect x="171.3" y="322.8" width="3.8" height="3.6" rx="0.9" fill="#E27D1E"/>
<rect x="176.8" y="320.3" width="3.8" height="3.6" rx="0.9" fill="#E27D1E"/>
<rect x="182.6" y="317.4" width="3.8" height="3.6" rx="0.9" fill="#E27D1E"/>
<rect x="187.8" y="314.6" width="3.8" height="3.6" rx="0.9" fill="#E27D1E"/>
<rect x="193.3" y="311.7" width="3.8" height="3.6" rx="0.9" fill="#E27D1E"/>
<rect x="198.5" y="308.8" width="3.8" height="3.6" rx="0.9" fill="#E27D1E"/>
<rect x="204.5" y="305.5" width="3.8" height="3.6" rx="0.9" fill="#E27D1E"/>
<rect x="210.2" y="302.3" width="3.8" height="3.6" rx="0.9" fill="#E27D1E"/>
<rect x="216.2" y="298.9" width="3.8" height="3.6" rx="0.9" fill="#E27D1E"/>
<rect x="222.3" y="295.5" width="3.8" height="3.6" rx="0.9" fill="#E27D1E"/>
<rect x="228.1" y="292.4" width="3.8" height="3.6" rx="0.9" fill="#E27D1E"/>
<rect x="233.9" y="289.4" width="3.8" height="3.6" rx="0.9" fill="#E27D1E"/>
<path d="M251.1,403.0 V465.2" stroke="#1E3466" stroke-width="1.6"/>
<path d="M251.1,396.2 l-3.9,8 h7.8 z" fill="#1E3466"/>
<circle cx="251.1" cy="469.7" r="4.3" fill="none" stroke="#1E3466" stroke-width="1.5"/>
<text x="209.7" y="540.2" class="c">(<tspan font-weight="bold">b</tspan>) Shear stress  <tspan dx="2.2" font-style="italic">τ</tspan><tspan dy="3" font-size="9.5" dx="1">D</tspan><tspan dy="-3" dx="2">.</tspan></text>
</svg></body></html>
